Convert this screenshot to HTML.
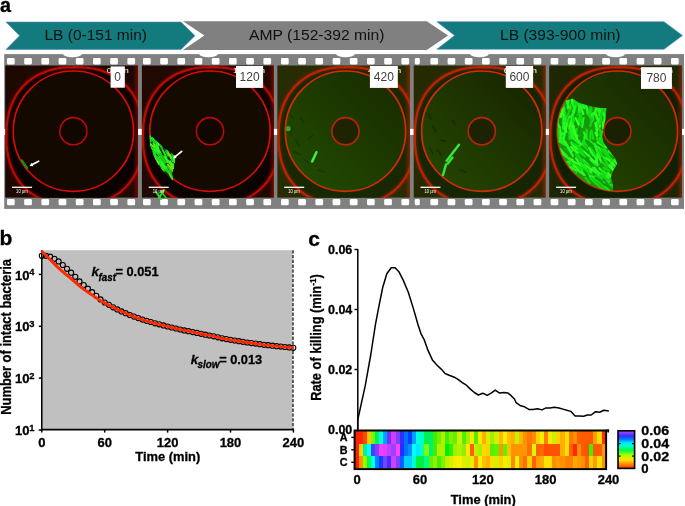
<!DOCTYPE html>
<html><head><meta charset="utf-8"><style>
html,body{margin:0;padding:0;background:#fff;width:685px;height:506px;overflow:hidden;position:relative}
svg text{font-family:"Liberation Sans",sans-serif}
svg{will-change:transform}
</style></head><body>
<svg width="685" height="506" viewBox="0 0 685 506" style="position:absolute;left:0;top:0" font-family="Liberation Sans, sans-serif">
<defs>
<filter id="blur1" x="-20%" y="-20%" width="140%" height="140%"><feGaussianBlur stdDeviation="0.8"/></filter>
<filter id="blur2" x="-20%" y="-20%" width="140%" height="140%"><feGaussianBlur stdDeviation="2.5"/></filter>
<filter id="blur05" x="-20%" y="-20%" width="140%" height="140%"><feGaussianBlur stdDeviation="0.5"/></filter>
<linearGradient id="cbar" x1="0" y1="1" x2="0" y2="0">
<stop offset="0" stop-color="#ff3000"/>
<stop offset="0.1" stop-color="#ff8000"/>
<stop offset="0.22" stop-color="#ffe000"/>
<stop offset="0.35" stop-color="#b0ff00"/>
<stop offset="0.48" stop-color="#00ff40"/>
<stop offset="0.6" stop-color="#00ffd0"/>
<stop offset="0.68" stop-color="#00e8ff"/>
<stop offset="0.77" stop-color="#0080ff"/>
<stop offset="0.86" stop-color="#2a30ff"/>
<stop offset="0.95" stop-color="#9040ff"/>
<stop offset="1" stop-color="#c040ff"/>
</linearGradient>
</defs>
<text x="0.0" y="11.7" font-size="21" font-weight="bold" font-style="normal" text-anchor="start" fill="#000" textLength="11.0" lengthAdjust="spacingAndGlyphs" stroke="#000" stroke-width="0.3" >a</text>
<polygon points="6,22 181,22 195,35.7 181,49.5 6,49.5 19.6,35.7" fill="#137b7d" stroke="#5a86c6" stroke-width="0.6"/>
<polygon points="183,21.2 426.8,21.2 448.1,35.6 426.8,50.1 183,50.1 204.4,35.6" fill="#808080"/>
<polygon points="436.8,21.7 664,21.7 682.5,35.5 664,49.3 436.8,49.3 454.6,35.5" fill="#137b7d" stroke="#5a86c6" stroke-width="0.6"/>
<text x="44.5" y="39.6" font-size="14.5" font-weight="normal" font-style="normal" text-anchor="start" fill="#111" textLength="102.5" lengthAdjust="spacingAndGlyphs" >LB (0-151 min)</text>
<text x="249" y="39.8" font-size="14.5" font-weight="normal" font-style="normal" text-anchor="start" fill="#111" textLength="135.5" lengthAdjust="spacingAndGlyphs" >AMP (152-392 min)</text>
<text x="500" y="39.8" font-size="14.5" font-weight="normal" font-style="normal" text-anchor="start" fill="#111" textLength="120.5" lengthAdjust="spacingAndGlyphs" >LB (393-900 min)</text>
<rect x="4.2" y="54.1" width="679.8" height="154.8" fill="#808080"/>
<ellipse cx="72.4" cy="54.1" rx="9.3" ry="3.2" fill="#fff"/>
<ellipse cx="208.5" cy="54.1" rx="9.3" ry="3.2" fill="#fff"/>
<ellipse cx="345.5" cy="54.1" rx="9.3" ry="3.2" fill="#fff"/>
<ellipse cx="479.5" cy="54.1" rx="9.3" ry="3.2" fill="#fff"/>
<ellipse cx="615.6" cy="54.1" rx="9.3" ry="3.2" fill="#fff"/>
<rect x="7.0" y="58.1" width="7.7" height="6.3" rx="1.3" fill="#fff"/>
<rect x="7.0" y="199.0" width="7.7" height="6.3" rx="1.3" fill="#fff"/>
<rect x="24.2" y="58.1" width="7.7" height="6.3" rx="1.3" fill="#fff"/>
<rect x="24.2" y="199.0" width="7.7" height="6.3" rx="1.3" fill="#fff"/>
<rect x="41.4" y="58.1" width="7.7" height="6.3" rx="1.3" fill="#fff"/>
<rect x="41.4" y="199.0" width="7.7" height="6.3" rx="1.3" fill="#fff"/>
<rect x="58.6" y="58.1" width="7.7" height="6.3" rx="1.3" fill="#fff"/>
<rect x="58.6" y="199.0" width="7.7" height="6.3" rx="1.3" fill="#fff"/>
<rect x="75.8" y="58.1" width="7.7" height="6.3" rx="1.3" fill="#fff"/>
<rect x="75.8" y="199.0" width="7.7" height="6.3" rx="1.3" fill="#fff"/>
<rect x="93.0" y="58.1" width="7.7" height="6.3" rx="1.3" fill="#fff"/>
<rect x="93.0" y="199.0" width="7.7" height="6.3" rx="1.3" fill="#fff"/>
<rect x="110.2" y="58.1" width="7.7" height="6.3" rx="1.3" fill="#fff"/>
<rect x="110.2" y="199.0" width="7.7" height="6.3" rx="1.3" fill="#fff"/>
<rect x="127.4" y="58.1" width="7.7" height="6.3" rx="1.3" fill="#fff"/>
<rect x="127.4" y="199.0" width="7.7" height="6.3" rx="1.3" fill="#fff"/>
<rect x="143.0" y="58.1" width="7.7" height="6.3" rx="1.3" fill="#fff"/>
<rect x="143.0" y="199.0" width="7.7" height="6.3" rx="1.3" fill="#fff"/>
<rect x="160.2" y="58.1" width="7.7" height="6.3" rx="1.3" fill="#fff"/>
<rect x="160.2" y="199.0" width="7.7" height="6.3" rx="1.3" fill="#fff"/>
<rect x="177.4" y="58.1" width="7.7" height="6.3" rx="1.3" fill="#fff"/>
<rect x="177.4" y="199.0" width="7.7" height="6.3" rx="1.3" fill="#fff"/>
<rect x="194.6" y="58.1" width="7.7" height="6.3" rx="1.3" fill="#fff"/>
<rect x="194.6" y="199.0" width="7.7" height="6.3" rx="1.3" fill="#fff"/>
<rect x="211.8" y="58.1" width="7.7" height="6.3" rx="1.3" fill="#fff"/>
<rect x="211.8" y="199.0" width="7.7" height="6.3" rx="1.3" fill="#fff"/>
<rect x="229.0" y="58.1" width="7.7" height="6.3" rx="1.3" fill="#fff"/>
<rect x="229.0" y="199.0" width="7.7" height="6.3" rx="1.3" fill="#fff"/>
<rect x="246.2" y="58.1" width="7.7" height="6.3" rx="1.3" fill="#fff"/>
<rect x="246.2" y="199.0" width="7.7" height="6.3" rx="1.3" fill="#fff"/>
<rect x="263.4" y="58.1" width="7.7" height="6.3" rx="1.3" fill="#fff"/>
<rect x="263.4" y="199.0" width="7.7" height="6.3" rx="1.3" fill="#fff"/>
<rect x="281.0" y="58.1" width="7.7" height="6.3" rx="1.3" fill="#fff"/>
<rect x="281.0" y="199.0" width="7.7" height="6.3" rx="1.3" fill="#fff"/>
<rect x="298.2" y="58.1" width="7.7" height="6.3" rx="1.3" fill="#fff"/>
<rect x="298.2" y="199.0" width="7.7" height="6.3" rx="1.3" fill="#fff"/>
<rect x="315.4" y="58.1" width="7.7" height="6.3" rx="1.3" fill="#fff"/>
<rect x="315.4" y="199.0" width="7.7" height="6.3" rx="1.3" fill="#fff"/>
<rect x="332.6" y="58.1" width="7.7" height="6.3" rx="1.3" fill="#fff"/>
<rect x="332.6" y="199.0" width="7.7" height="6.3" rx="1.3" fill="#fff"/>
<rect x="349.8" y="58.1" width="7.7" height="6.3" rx="1.3" fill="#fff"/>
<rect x="349.8" y="199.0" width="7.7" height="6.3" rx="1.3" fill="#fff"/>
<rect x="367.0" y="58.1" width="7.7" height="6.3" rx="1.3" fill="#fff"/>
<rect x="367.0" y="199.0" width="7.7" height="6.3" rx="1.3" fill="#fff"/>
<rect x="384.2" y="58.1" width="7.7" height="6.3" rx="1.3" fill="#fff"/>
<rect x="384.2" y="199.0" width="7.7" height="6.3" rx="1.3" fill="#fff"/>
<rect x="401.4" y="58.1" width="7.7" height="6.3" rx="1.3" fill="#fff"/>
<rect x="401.4" y="199.0" width="7.7" height="6.3" rx="1.3" fill="#fff"/>
<rect x="414.8" y="58.1" width="5.0" height="6.3" rx="1.3" fill="#fff"/>
<rect x="414.8" y="199.0" width="5.0" height="6.3" rx="1.3" fill="#fff"/>
<rect x="430.4" y="58.1" width="7.7" height="6.3" rx="1.3" fill="#fff"/>
<rect x="430.4" y="199.0" width="7.7" height="6.3" rx="1.3" fill="#fff"/>
<rect x="447.6" y="58.1" width="7.7" height="6.3" rx="1.3" fill="#fff"/>
<rect x="447.6" y="199.0" width="7.7" height="6.3" rx="1.3" fill="#fff"/>
<rect x="464.8" y="58.1" width="7.7" height="6.3" rx="1.3" fill="#fff"/>
<rect x="464.8" y="199.0" width="7.7" height="6.3" rx="1.3" fill="#fff"/>
<rect x="482.0" y="58.1" width="7.7" height="6.3" rx="1.3" fill="#fff"/>
<rect x="482.0" y="199.0" width="7.7" height="6.3" rx="1.3" fill="#fff"/>
<rect x="499.2" y="58.1" width="7.7" height="6.3" rx="1.3" fill="#fff"/>
<rect x="499.2" y="199.0" width="7.7" height="6.3" rx="1.3" fill="#fff"/>
<rect x="516.4" y="58.1" width="7.7" height="6.3" rx="1.3" fill="#fff"/>
<rect x="516.4" y="199.0" width="7.7" height="6.3" rx="1.3" fill="#fff"/>
<rect x="533.6" y="58.1" width="7.7" height="6.3" rx="1.3" fill="#fff"/>
<rect x="533.6" y="199.0" width="7.7" height="6.3" rx="1.3" fill="#fff"/>
<rect x="550.6" y="58.1" width="7.7" height="6.3" rx="1.3" fill="#fff"/>
<rect x="550.6" y="199.0" width="7.7" height="6.3" rx="1.3" fill="#fff"/>
<rect x="567.8" y="58.1" width="7.7" height="6.3" rx="1.3" fill="#fff"/>
<rect x="567.8" y="199.0" width="7.7" height="6.3" rx="1.3" fill="#fff"/>
<rect x="585.0" y="58.1" width="7.7" height="6.3" rx="1.3" fill="#fff"/>
<rect x="585.0" y="199.0" width="7.7" height="6.3" rx="1.3" fill="#fff"/>
<rect x="602.2" y="58.1" width="7.7" height="6.3" rx="1.3" fill="#fff"/>
<rect x="602.2" y="199.0" width="7.7" height="6.3" rx="1.3" fill="#fff"/>
<rect x="619.4" y="58.1" width="7.7" height="6.3" rx="1.3" fill="#fff"/>
<rect x="619.4" y="199.0" width="7.7" height="6.3" rx="1.3" fill="#fff"/>
<rect x="636.6" y="58.1" width="7.7" height="6.3" rx="1.3" fill="#fff"/>
<rect x="636.6" y="199.0" width="7.7" height="6.3" rx="1.3" fill="#fff"/>
<rect x="653.8" y="58.1" width="7.7" height="6.3" rx="1.3" fill="#fff"/>
<rect x="653.8" y="199.0" width="7.7" height="6.3" rx="1.3" fill="#fff"/>
<rect x="671.0" y="58.1" width="7.7" height="6.3" rx="1.3" fill="#fff"/>
<rect x="671.0" y="199.0" width="7.7" height="6.3" rx="1.3" fill="#fff"/>
<clipPath id="fc0"><rect x="5.1" y="65.3" width="132.9" height="132.5"/></clipPath>
<g clip-path="url(#fc0)">
<rect x="5.1" y="65.3" width="132.9" height="132.5" fill="#1e0902"/>
<path d="M143.4,136.2 L143.3,141.5 L143.1,145.9 L142.7,149.9 L142.1,153.8 L141.4,157.5 L140.5,161.1 L139.4,164.5 L138.2,167.8 L136.9,170.9 L135.3,174.0 L133.7,176.9 L131.9,179.7 L129.9,182.3 L127.8,184.9 L125.6,187.2 L123.2,189.5 L120.7,191.6 L118.1,193.6 L115.3,195.4 L112.4,197.1 L109.4,198.6 L106.2,200.0 L103.0,201.2 L99.6,202.3 L96.0,203.2 L92.4,203.9 L88.5,204.5 L84.5,204.9 L80.2,205.1 L74.9,205.2 L69.6,205.1 L65.3,204.9 L61.3,204.5 L57.4,203.9 L53.8,203.2 L50.2,202.3 L46.8,201.2 L43.6,200.0 L40.4,198.6 L37.4,197.1 L34.5,195.4 L31.7,193.6 L29.1,191.6 L26.6,189.5 L24.2,187.2 L22.0,184.9 L19.9,182.3 L17.9,179.7 L16.1,176.9 L14.5,174.0 L12.9,170.9 L11.6,167.8 L10.4,164.5 L9.3,161.1 L8.4,157.5 L7.7,153.8 L7.1,149.9 L6.7,145.9 L6.5,141.5 L6.4,136.2 L6.5,130.9 L6.7,126.5 L7.1,122.5 L7.7,118.6 L8.4,114.9 L9.3,111.3 L10.4,107.9 L11.6,104.6 L12.9,101.5 L14.5,98.4 L16.1,95.5 L17.9,92.7 L19.9,90.1 L22.0,87.5 L24.2,85.2 L26.6,82.9 L29.1,80.8 L31.7,78.8 L34.5,77.0 L37.4,75.3 L40.4,73.8 L43.6,72.4 L46.8,71.2 L50.2,70.1 L53.8,69.2 L57.4,68.5 L61.3,67.9 L65.3,67.5 L69.6,67.3 L74.9,67.2 L80.2,67.3 L84.5,67.5 L88.5,67.9 L92.4,68.5 L96.0,69.2 L99.6,70.1 L103.0,71.2 L106.2,72.4 L109.4,73.8 L112.4,75.3 L115.3,77.0 L118.1,78.8 L120.7,80.8 L123.2,82.9 L125.6,85.2 L127.8,87.5 L129.9,90.1 L131.9,92.7 L133.7,95.5 L135.3,98.4 L136.9,101.5 L138.2,104.6 L139.4,107.9 L140.5,111.3 L141.4,114.9 L142.1,118.6 L142.7,122.5 L143.1,126.5 L143.3,130.9Z" fill="#0a0200"/>
<circle cx="73.39999999999999" cy="131.2" r="60.2" fill="#130900"/>
<circle cx="73.39999999999999" cy="131.2" r="13.5" fill="#120600"/>
<rect x="133.0" y="65.3" width="5" height="132.5" fill="url(#rglow0)"/>
<path d="M143.4,136.2 L143.3,141.5 L143.1,145.9 L142.7,149.9 L142.1,153.8 L141.4,157.5 L140.5,161.1 L139.4,164.5 L138.2,167.8 L136.9,170.9 L135.3,174.0 L133.7,176.9 L131.9,179.7 L129.9,182.3 L127.8,184.9 L125.6,187.2 L123.2,189.5 L120.7,191.6 L118.1,193.6 L115.3,195.4 L112.4,197.1 L109.4,198.6 L106.2,200.0 L103.0,201.2 L99.6,202.3 L96.0,203.2 L92.4,203.9 L88.5,204.5 L84.5,204.9 L80.2,205.1 L74.9,205.2 L69.6,205.1 L65.3,204.9 L61.3,204.5 L57.4,203.9 L53.8,203.2 L50.2,202.3 L46.8,201.2 L43.6,200.0 L40.4,198.6 L37.4,197.1 L34.5,195.4 L31.7,193.6 L29.1,191.6 L26.6,189.5 L24.2,187.2 L22.0,184.9 L19.9,182.3 L17.9,179.7 L16.1,176.9 L14.5,174.0 L12.9,170.9 L11.6,167.8 L10.4,164.5 L9.3,161.1 L8.4,157.5 L7.7,153.8 L7.1,149.9 L6.7,145.9 L6.5,141.5 L6.4,136.2 L6.5,130.9 L6.7,126.5 L7.1,122.5 L7.7,118.6 L8.4,114.9 L9.3,111.3 L10.4,107.9 L11.6,104.6 L12.9,101.5 L14.5,98.4 L16.1,95.5 L17.9,92.7 L19.9,90.1 L22.0,87.5 L24.2,85.2 L26.6,82.9 L29.1,80.8 L31.7,78.8 L34.5,77.0 L37.4,75.3 L40.4,73.8 L43.6,72.4 L46.8,71.2 L50.2,70.1 L53.8,69.2 L57.4,68.5 L61.3,67.9 L65.3,67.5 L69.6,67.3 L74.9,67.2 L80.2,67.3 L84.5,67.5 L88.5,67.9 L92.4,68.5 L96.0,69.2 L99.6,70.1 L103.0,71.2 L106.2,72.4 L109.4,73.8 L112.4,75.3 L115.3,77.0 L118.1,78.8 L120.7,80.8 L123.2,82.9 L125.6,85.2 L127.8,87.5 L129.9,90.1 L131.9,92.7 L133.7,95.5 L135.3,98.4 L136.9,101.5 L138.2,104.6 L139.4,107.9 L140.5,111.3 L141.4,114.9 L142.1,118.6 L142.7,122.5 L143.1,126.5 L143.3,130.9Z" fill="none" stroke="#b80800" stroke-width="4.5" opacity="0.35" filter="url(#blur1)"/>
<g filter="url(#blur05)">
<path d="M143.4,136.2 L143.3,141.5 L143.1,145.9 L142.7,149.9 L142.1,153.8 L141.4,157.5 L140.5,161.1 L139.4,164.5 L138.2,167.8 L136.9,170.9 L135.3,174.0 L133.7,176.9 L131.9,179.7 L129.9,182.3 L127.8,184.9 L125.6,187.2 L123.2,189.5 L120.7,191.6 L118.1,193.6 L115.3,195.4 L112.4,197.1 L109.4,198.6 L106.2,200.0 L103.0,201.2 L99.6,202.3 L96.0,203.2 L92.4,203.9 L88.5,204.5 L84.5,204.9 L80.2,205.1 L74.9,205.2 L69.6,205.1 L65.3,204.9 L61.3,204.5 L57.4,203.9 L53.8,203.2 L50.2,202.3 L46.8,201.2 L43.6,200.0 L40.4,198.6 L37.4,197.1 L34.5,195.4 L31.7,193.6 L29.1,191.6 L26.6,189.5 L24.2,187.2 L22.0,184.9 L19.9,182.3 L17.9,179.7 L16.1,176.9 L14.5,174.0 L12.9,170.9 L11.6,167.8 L10.4,164.5 L9.3,161.1 L8.4,157.5 L7.7,153.8 L7.1,149.9 L6.7,145.9 L6.5,141.5 L6.4,136.2 L6.5,130.9 L6.7,126.5 L7.1,122.5 L7.7,118.6 L8.4,114.9 L9.3,111.3 L10.4,107.9 L11.6,104.6 L12.9,101.5 L14.5,98.4 L16.1,95.5 L17.9,92.7 L19.9,90.1 L22.0,87.5 L24.2,85.2 L26.6,82.9 L29.1,80.8 L31.7,78.8 L34.5,77.0 L37.4,75.3 L40.4,73.8 L43.6,72.4 L46.8,71.2 L50.2,70.1 L53.8,69.2 L57.4,68.5 L61.3,67.9 L65.3,67.5 L69.6,67.3 L74.9,67.2 L80.2,67.3 L84.5,67.5 L88.5,67.9 L92.4,68.5 L96.0,69.2 L99.6,70.1 L103.0,71.2 L106.2,72.4 L109.4,73.8 L112.4,75.3 L115.3,77.0 L118.1,78.8 L120.7,80.8 L123.2,82.9 L125.6,85.2 L127.8,87.5 L129.9,90.1 L131.9,92.7 L133.7,95.5 L135.3,98.4 L136.9,101.5 L138.2,104.6 L139.4,107.9 L140.5,111.3 L141.4,114.9 L142.1,118.6 L142.7,122.5 L143.1,126.5 L143.3,130.9Z" fill="none" stroke="#b80800" stroke-width="2.2"/>
</g>
<g filter="url(#blur05)">
<circle cx="73.39999999999999" cy="131.2" r="13.6" fill="none" stroke="#b80800" stroke-width="1.6"/>
<circle cx="73.39999999999999" cy="131.2" r="60.2" fill="none" stroke="#d80a00" stroke-width="1.7"/>
</g>
</g>
<linearGradient id="rglow0" x1="0" x2="1" y1="0" y2="0"><stop offset="0" stop-color="#b80800" stop-opacity="0"/><stop offset="1" stop-color="#b80800" stop-opacity="0.55"/></linearGradient>
<clipPath id="fc1"><rect x="141.7" y="65.3" width="132.2" height="132.5"/></clipPath>
<g clip-path="url(#fc1)">
<rect x="141.7" y="65.3" width="132.2" height="132.5" fill="#200902"/>
<path d="M280.0,136.2 L279.9,141.5 L279.7,145.9 L279.3,149.9 L278.7,153.8 L278.0,157.5 L277.1,161.1 L276.0,164.5 L274.8,167.8 L273.5,170.9 L271.9,174.0 L270.3,176.9 L268.5,179.7 L266.5,182.3 L264.4,184.9 L262.2,187.2 L259.8,189.5 L257.3,191.6 L254.7,193.6 L251.9,195.4 L249.0,197.1 L246.0,198.6 L242.8,200.0 L239.6,201.2 L236.2,202.3 L232.6,203.2 L229.0,203.9 L225.1,204.5 L221.1,204.9 L216.8,205.1 L211.5,205.2 L206.2,205.1 L201.9,204.9 L197.9,204.5 L194.0,203.9 L190.4,203.2 L186.8,202.3 L183.4,201.2 L180.2,200.0 L177.0,198.6 L174.0,197.1 L171.1,195.4 L168.3,193.6 L165.7,191.6 L163.2,189.5 L160.8,187.2 L158.6,184.9 L156.5,182.3 L154.5,179.7 L152.7,176.9 L151.1,174.0 L149.5,170.9 L148.2,167.8 L147.0,164.5 L145.9,161.1 L145.0,157.5 L144.3,153.8 L143.7,149.9 L143.3,145.9 L143.1,141.5 L143.0,136.2 L143.1,130.9 L143.3,126.5 L143.7,122.5 L144.3,118.6 L145.0,114.9 L145.9,111.3 L147.0,107.9 L148.2,104.6 L149.5,101.5 L151.1,98.4 L152.7,95.5 L154.5,92.7 L156.5,90.1 L158.6,87.5 L160.8,85.2 L163.2,82.9 L165.7,80.8 L168.3,78.8 L171.1,77.0 L174.0,75.3 L177.0,73.8 L180.2,72.4 L183.4,71.2 L186.8,70.1 L190.4,69.2 L194.0,68.5 L197.9,67.9 L201.9,67.5 L206.2,67.3 L211.5,67.2 L216.8,67.3 L221.1,67.5 L225.1,67.9 L229.0,68.5 L232.6,69.2 L236.2,70.1 L239.6,71.2 L242.8,72.4 L246.0,73.8 L249.0,75.3 L251.9,77.0 L254.7,78.8 L257.3,80.8 L259.8,82.9 L262.2,85.2 L264.4,87.5 L266.5,90.1 L268.5,92.7 L270.3,95.5 L271.9,98.4 L273.5,101.5 L274.8,104.6 L276.0,107.9 L277.1,111.3 L278.0,114.9 L278.7,118.6 L279.3,122.5 L279.7,126.5 L279.9,130.9Z" fill="#0a0300"/>
<circle cx="210.0" cy="131.2" r="60.2" fill="#140a00"/>
<circle cx="210.0" cy="131.2" r="13.5" fill="#120600"/>
<rect x="268.9" y="65.3" width="5" height="132.5" fill="url(#rglow1)"/>
<path d="M280.0,136.2 L279.9,141.5 L279.7,145.9 L279.3,149.9 L278.7,153.8 L278.0,157.5 L277.1,161.1 L276.0,164.5 L274.8,167.8 L273.5,170.9 L271.9,174.0 L270.3,176.9 L268.5,179.7 L266.5,182.3 L264.4,184.9 L262.2,187.2 L259.8,189.5 L257.3,191.6 L254.7,193.6 L251.9,195.4 L249.0,197.1 L246.0,198.6 L242.8,200.0 L239.6,201.2 L236.2,202.3 L232.6,203.2 L229.0,203.9 L225.1,204.5 L221.1,204.9 L216.8,205.1 L211.5,205.2 L206.2,205.1 L201.9,204.9 L197.9,204.5 L194.0,203.9 L190.4,203.2 L186.8,202.3 L183.4,201.2 L180.2,200.0 L177.0,198.6 L174.0,197.1 L171.1,195.4 L168.3,193.6 L165.7,191.6 L163.2,189.5 L160.8,187.2 L158.6,184.9 L156.5,182.3 L154.5,179.7 L152.7,176.9 L151.1,174.0 L149.5,170.9 L148.2,167.8 L147.0,164.5 L145.9,161.1 L145.0,157.5 L144.3,153.8 L143.7,149.9 L143.3,145.9 L143.1,141.5 L143.0,136.2 L143.1,130.9 L143.3,126.5 L143.7,122.5 L144.3,118.6 L145.0,114.9 L145.9,111.3 L147.0,107.9 L148.2,104.6 L149.5,101.5 L151.1,98.4 L152.7,95.5 L154.5,92.7 L156.5,90.1 L158.6,87.5 L160.8,85.2 L163.2,82.9 L165.7,80.8 L168.3,78.8 L171.1,77.0 L174.0,75.3 L177.0,73.8 L180.2,72.4 L183.4,71.2 L186.8,70.1 L190.4,69.2 L194.0,68.5 L197.9,67.9 L201.9,67.5 L206.2,67.3 L211.5,67.2 L216.8,67.3 L221.1,67.5 L225.1,67.9 L229.0,68.5 L232.6,69.2 L236.2,70.1 L239.6,71.2 L242.8,72.4 L246.0,73.8 L249.0,75.3 L251.9,77.0 L254.7,78.8 L257.3,80.8 L259.8,82.9 L262.2,85.2 L264.4,87.5 L266.5,90.1 L268.5,92.7 L270.3,95.5 L271.9,98.4 L273.5,101.5 L274.8,104.6 L276.0,107.9 L277.1,111.3 L278.0,114.9 L278.7,118.6 L279.3,122.5 L279.7,126.5 L279.9,130.9Z" fill="none" stroke="#b80a00" stroke-width="4.5" opacity="0.35" filter="url(#blur1)"/>
<g filter="url(#blur05)">
<path d="M280.0,136.2 L279.9,141.5 L279.7,145.9 L279.3,149.9 L278.7,153.8 L278.0,157.5 L277.1,161.1 L276.0,164.5 L274.8,167.8 L273.5,170.9 L271.9,174.0 L270.3,176.9 L268.5,179.7 L266.5,182.3 L264.4,184.9 L262.2,187.2 L259.8,189.5 L257.3,191.6 L254.7,193.6 L251.9,195.4 L249.0,197.1 L246.0,198.6 L242.8,200.0 L239.6,201.2 L236.2,202.3 L232.6,203.2 L229.0,203.9 L225.1,204.5 L221.1,204.9 L216.8,205.1 L211.5,205.2 L206.2,205.1 L201.9,204.9 L197.9,204.5 L194.0,203.9 L190.4,203.2 L186.8,202.3 L183.4,201.2 L180.2,200.0 L177.0,198.6 L174.0,197.1 L171.1,195.4 L168.3,193.6 L165.7,191.6 L163.2,189.5 L160.8,187.2 L158.6,184.9 L156.5,182.3 L154.5,179.7 L152.7,176.9 L151.1,174.0 L149.5,170.9 L148.2,167.8 L147.0,164.5 L145.9,161.1 L145.0,157.5 L144.3,153.8 L143.7,149.9 L143.3,145.9 L143.1,141.5 L143.0,136.2 L143.1,130.9 L143.3,126.5 L143.7,122.5 L144.3,118.6 L145.0,114.9 L145.9,111.3 L147.0,107.9 L148.2,104.6 L149.5,101.5 L151.1,98.4 L152.7,95.5 L154.5,92.7 L156.5,90.1 L158.6,87.5 L160.8,85.2 L163.2,82.9 L165.7,80.8 L168.3,78.8 L171.1,77.0 L174.0,75.3 L177.0,73.8 L180.2,72.4 L183.4,71.2 L186.8,70.1 L190.4,69.2 L194.0,68.5 L197.9,67.9 L201.9,67.5 L206.2,67.3 L211.5,67.2 L216.8,67.3 L221.1,67.5 L225.1,67.9 L229.0,68.5 L232.6,69.2 L236.2,70.1 L239.6,71.2 L242.8,72.4 L246.0,73.8 L249.0,75.3 L251.9,77.0 L254.7,78.8 L257.3,80.8 L259.8,82.9 L262.2,85.2 L264.4,87.5 L266.5,90.1 L268.5,92.7 L270.3,95.5 L271.9,98.4 L273.5,101.5 L274.8,104.6 L276.0,107.9 L277.1,111.3 L278.0,114.9 L278.7,118.6 L279.3,122.5 L279.7,126.5 L279.9,130.9Z" fill="none" stroke="#b80a00" stroke-width="2.2"/>
</g>
<g filter="url(#blur05)">
<circle cx="210.0" cy="131.2" r="13.6" fill="none" stroke="#b80a00" stroke-width="1.6"/>
<circle cx="210.0" cy="131.2" r="60.2" fill="none" stroke="#d80c00" stroke-width="1.7"/>
</g>
</g>
<linearGradient id="rglow1" x1="0" x2="1" y1="0" y2="0"><stop offset="0" stop-color="#b80a00" stop-opacity="0"/><stop offset="1" stop-color="#b80a00" stop-opacity="0.55"/></linearGradient>
<clipPath id="fc2"><rect x="277.2" y="65.3" width="132.8" height="132.5"/></clipPath>
<g clip-path="url(#fc2)">
<rect x="277.2" y="65.3" width="132.8" height="132.5" fill="#282c02"/>
<path d="M415.5,136.2 L415.4,141.5 L415.2,145.9 L414.8,149.9 L414.2,153.8 L413.5,157.5 L412.6,161.1 L411.5,164.5 L410.3,167.8 L409.0,170.9 L407.4,174.0 L405.8,176.9 L404.0,179.7 L402.0,182.3 L399.9,184.9 L397.7,187.2 L395.3,189.5 L392.8,191.6 L390.2,193.6 L387.4,195.4 L384.5,197.1 L381.5,198.6 L378.3,200.0 L375.1,201.2 L371.7,202.3 L368.1,203.2 L364.5,203.9 L360.6,204.5 L356.6,204.9 L352.3,205.1 L347.0,205.2 L341.7,205.1 L337.4,204.9 L333.4,204.5 L329.5,203.9 L325.9,203.2 L322.3,202.3 L318.9,201.2 L315.7,200.0 L312.5,198.6 L309.5,197.1 L306.6,195.4 L303.8,193.6 L301.2,191.6 L298.7,189.5 L296.3,187.2 L294.1,184.9 L292.0,182.3 L290.0,179.7 L288.2,176.9 L286.6,174.0 L285.0,170.9 L283.7,167.8 L282.5,164.5 L281.4,161.1 L280.5,157.5 L279.8,153.8 L279.2,149.9 L278.8,145.9 L278.6,141.5 L278.5,136.2 L278.6,130.9 L278.8,126.5 L279.2,122.5 L279.8,118.6 L280.5,114.9 L281.4,111.3 L282.5,107.9 L283.7,104.6 L285.0,101.5 L286.6,98.4 L288.2,95.5 L290.0,92.7 L292.0,90.1 L294.1,87.5 L296.3,85.2 L298.7,82.9 L301.2,80.8 L303.8,78.8 L306.6,77.0 L309.5,75.3 L312.5,73.8 L315.7,72.4 L318.9,71.2 L322.3,70.1 L325.9,69.2 L329.5,68.5 L333.4,67.9 L337.4,67.5 L341.7,67.3 L347.0,67.2 L352.3,67.3 L356.6,67.5 L360.6,67.9 L364.5,68.5 L368.1,69.2 L371.7,70.1 L375.1,71.2 L378.3,72.4 L381.5,73.8 L384.5,75.3 L387.4,77.0 L390.2,78.8 L392.8,80.8 L395.3,82.9 L397.7,85.2 L399.9,87.5 L402.0,90.1 L404.0,92.7 L405.8,95.5 L407.4,98.4 L409.0,101.5 L410.3,104.6 L411.5,107.9 L412.6,111.3 L413.5,114.9 L414.2,118.6 L414.8,122.5 L415.2,126.5 L415.4,130.9Z" fill="#182802"/>
<linearGradient id="ig2" x1="0.15" y1="0.85" x2="0.85" y2="0.15"><stop offset="0" stop-color="#204800"/><stop offset="1" stop-color="#1a2e00"/></linearGradient>
<circle cx="345.5" cy="131.2" r="60.2" fill="url(#ig2)"/>
<circle cx="345.5" cy="131.2" r="13.5" fill="#1e2402"/>
<rect x="405.0" y="65.3" width="5" height="132.5" fill="url(#rglow2)"/>
<path d="M415.5,136.2 L415.4,141.5 L415.2,145.9 L414.8,149.9 L414.2,153.8 L413.5,157.5 L412.6,161.1 L411.5,164.5 L410.3,167.8 L409.0,170.9 L407.4,174.0 L405.8,176.9 L404.0,179.7 L402.0,182.3 L399.9,184.9 L397.7,187.2 L395.3,189.5 L392.8,191.6 L390.2,193.6 L387.4,195.4 L384.5,197.1 L381.5,198.6 L378.3,200.0 L375.1,201.2 L371.7,202.3 L368.1,203.2 L364.5,203.9 L360.6,204.5 L356.6,204.9 L352.3,205.1 L347.0,205.2 L341.7,205.1 L337.4,204.9 L333.4,204.5 L329.5,203.9 L325.9,203.2 L322.3,202.3 L318.9,201.2 L315.7,200.0 L312.5,198.6 L309.5,197.1 L306.6,195.4 L303.8,193.6 L301.2,191.6 L298.7,189.5 L296.3,187.2 L294.1,184.9 L292.0,182.3 L290.0,179.7 L288.2,176.9 L286.6,174.0 L285.0,170.9 L283.7,167.8 L282.5,164.5 L281.4,161.1 L280.5,157.5 L279.8,153.8 L279.2,149.9 L278.8,145.9 L278.6,141.5 L278.5,136.2 L278.6,130.9 L278.8,126.5 L279.2,122.5 L279.8,118.6 L280.5,114.9 L281.4,111.3 L282.5,107.9 L283.7,104.6 L285.0,101.5 L286.6,98.4 L288.2,95.5 L290.0,92.7 L292.0,90.1 L294.1,87.5 L296.3,85.2 L298.7,82.9 L301.2,80.8 L303.8,78.8 L306.6,77.0 L309.5,75.3 L312.5,73.8 L315.7,72.4 L318.9,71.2 L322.3,70.1 L325.9,69.2 L329.5,68.5 L333.4,67.9 L337.4,67.5 L341.7,67.3 L347.0,67.2 L352.3,67.3 L356.6,67.5 L360.6,67.9 L364.5,68.5 L368.1,69.2 L371.7,70.1 L375.1,71.2 L378.3,72.4 L381.5,73.8 L384.5,75.3 L387.4,77.0 L390.2,78.8 L392.8,80.8 L395.3,82.9 L397.7,85.2 L399.9,87.5 L402.0,90.1 L404.0,92.7 L405.8,95.5 L407.4,98.4 L409.0,101.5 L410.3,104.6 L411.5,107.9 L412.6,111.3 L413.5,114.9 L414.2,118.6 L414.8,122.5 L415.2,126.5 L415.4,130.9Z" fill="none" stroke="#c02400" stroke-width="4.5" opacity="0.35" filter="url(#blur1)"/>
<g filter="url(#blur05)">
<path d="M415.5,136.2 L415.4,141.5 L415.2,145.9 L414.8,149.9 L414.2,153.8 L413.5,157.5 L412.6,161.1 L411.5,164.5 L410.3,167.8 L409.0,170.9 L407.4,174.0 L405.8,176.9 L404.0,179.7 L402.0,182.3 L399.9,184.9 L397.7,187.2 L395.3,189.5 L392.8,191.6 L390.2,193.6 L387.4,195.4 L384.5,197.1 L381.5,198.6 L378.3,200.0 L375.1,201.2 L371.7,202.3 L368.1,203.2 L364.5,203.9 L360.6,204.5 L356.6,204.9 L352.3,205.1 L347.0,205.2 L341.7,205.1 L337.4,204.9 L333.4,204.5 L329.5,203.9 L325.9,203.2 L322.3,202.3 L318.9,201.2 L315.7,200.0 L312.5,198.6 L309.5,197.1 L306.6,195.4 L303.8,193.6 L301.2,191.6 L298.7,189.5 L296.3,187.2 L294.1,184.9 L292.0,182.3 L290.0,179.7 L288.2,176.9 L286.6,174.0 L285.0,170.9 L283.7,167.8 L282.5,164.5 L281.4,161.1 L280.5,157.5 L279.8,153.8 L279.2,149.9 L278.8,145.9 L278.6,141.5 L278.5,136.2 L278.6,130.9 L278.8,126.5 L279.2,122.5 L279.8,118.6 L280.5,114.9 L281.4,111.3 L282.5,107.9 L283.7,104.6 L285.0,101.5 L286.6,98.4 L288.2,95.5 L290.0,92.7 L292.0,90.1 L294.1,87.5 L296.3,85.2 L298.7,82.9 L301.2,80.8 L303.8,78.8 L306.6,77.0 L309.5,75.3 L312.5,73.8 L315.7,72.4 L318.9,71.2 L322.3,70.1 L325.9,69.2 L329.5,68.5 L333.4,67.9 L337.4,67.5 L341.7,67.3 L347.0,67.2 L352.3,67.3 L356.6,67.5 L360.6,67.9 L364.5,68.5 L368.1,69.2 L371.7,70.1 L375.1,71.2 L378.3,72.4 L381.5,73.8 L384.5,75.3 L387.4,77.0 L390.2,78.8 L392.8,80.8 L395.3,82.9 L397.7,85.2 L399.9,87.5 L402.0,90.1 L404.0,92.7 L405.8,95.5 L407.4,98.4 L409.0,101.5 L410.3,104.6 L411.5,107.9 L412.6,111.3 L413.5,114.9 L414.2,118.6 L414.8,122.5 L415.2,126.5 L415.4,130.9Z" fill="none" stroke="#c02400" stroke-width="2.2"/>
</g>
<g filter="url(#blur05)">
<circle cx="345.5" cy="131.2" r="13.6" fill="none" stroke="#c02400" stroke-width="1.6"/>
<circle cx="345.5" cy="131.2" r="60.2" fill="none" stroke="#d82c00" stroke-width="1.7"/>
</g>
</g>
<linearGradient id="rglow2" x1="0" x2="1" y1="0" y2="0"><stop offset="0" stop-color="#c02400" stop-opacity="0"/><stop offset="1" stop-color="#c02400" stop-opacity="0.55"/></linearGradient>
<clipPath id="fc3"><rect x="413.5" y="65.3" width="132.3" height="132.5"/></clipPath>
<g clip-path="url(#fc3)">
<rect x="413.5" y="65.3" width="132.3" height="132.5" fill="#262a02"/>
<path d="M551.8,136.2 L551.7,141.5 L551.5,145.9 L551.1,149.9 L550.5,153.8 L549.8,157.5 L548.9,161.1 L547.8,164.5 L546.6,167.8 L545.3,170.9 L543.7,174.0 L542.1,176.9 L540.3,179.7 L538.3,182.3 L536.2,184.9 L534.0,187.2 L531.6,189.5 L529.1,191.6 L526.5,193.6 L523.7,195.4 L520.8,197.1 L517.8,198.6 L514.6,200.0 L511.4,201.2 L508.0,202.3 L504.4,203.2 L500.8,203.9 L496.9,204.5 L492.9,204.9 L488.6,205.1 L483.3,205.2 L478.0,205.1 L473.7,204.9 L469.7,204.5 L465.8,203.9 L462.2,203.2 L458.6,202.3 L455.2,201.2 L452.0,200.0 L448.8,198.6 L445.8,197.1 L442.9,195.4 L440.1,193.6 L437.5,191.6 L435.0,189.5 L432.6,187.2 L430.4,184.9 L428.3,182.3 L426.3,179.7 L424.5,176.9 L422.9,174.0 L421.3,170.9 L420.0,167.8 L418.8,164.5 L417.7,161.1 L416.8,157.5 L416.1,153.8 L415.5,149.9 L415.1,145.9 L414.9,141.5 L414.8,136.2 L414.9,130.9 L415.1,126.5 L415.5,122.5 L416.1,118.6 L416.8,114.9 L417.7,111.3 L418.8,107.9 L420.0,104.6 L421.3,101.5 L422.9,98.4 L424.5,95.5 L426.3,92.7 L428.3,90.1 L430.4,87.5 L432.6,85.2 L435.0,82.9 L437.5,80.8 L440.1,78.8 L442.9,77.0 L445.8,75.3 L448.8,73.8 L452.0,72.4 L455.2,71.2 L458.6,70.1 L462.2,69.2 L465.8,68.5 L469.7,67.9 L473.7,67.5 L478.0,67.3 L483.3,67.2 L488.6,67.3 L492.9,67.5 L496.9,67.9 L500.8,68.5 L504.4,69.2 L508.0,70.1 L511.4,71.2 L514.6,72.4 L517.8,73.8 L520.8,75.3 L523.7,77.0 L526.5,78.8 L529.1,80.8 L531.6,82.9 L534.0,85.2 L536.2,87.5 L538.3,90.1 L540.3,92.7 L542.1,95.5 L543.7,98.4 L545.3,101.5 L546.6,104.6 L547.8,107.9 L548.9,111.3 L549.8,114.9 L550.5,118.6 L551.1,122.5 L551.5,126.5 L551.7,130.9Z" fill="#162602"/>
<linearGradient id="ig3" x1="0.15" y1="0.85" x2="0.85" y2="0.15"><stop offset="0" stop-color="#234300"/><stop offset="1" stop-color="#192800"/></linearGradient>
<circle cx="481.8" cy="131.2" r="60.2" fill="url(#ig3)"/>
<circle cx="481.8" cy="131.2" r="13.5" fill="#1c2202"/>
<rect x="540.8" y="65.3" width="5" height="132.5" fill="url(#rglow3)"/>
<path d="M551.8,136.2 L551.7,141.5 L551.5,145.9 L551.1,149.9 L550.5,153.8 L549.8,157.5 L548.9,161.1 L547.8,164.5 L546.6,167.8 L545.3,170.9 L543.7,174.0 L542.1,176.9 L540.3,179.7 L538.3,182.3 L536.2,184.9 L534.0,187.2 L531.6,189.5 L529.1,191.6 L526.5,193.6 L523.7,195.4 L520.8,197.1 L517.8,198.6 L514.6,200.0 L511.4,201.2 L508.0,202.3 L504.4,203.2 L500.8,203.9 L496.9,204.5 L492.9,204.9 L488.6,205.1 L483.3,205.2 L478.0,205.1 L473.7,204.9 L469.7,204.5 L465.8,203.9 L462.2,203.2 L458.6,202.3 L455.2,201.2 L452.0,200.0 L448.8,198.6 L445.8,197.1 L442.9,195.4 L440.1,193.6 L437.5,191.6 L435.0,189.5 L432.6,187.2 L430.4,184.9 L428.3,182.3 L426.3,179.7 L424.5,176.9 L422.9,174.0 L421.3,170.9 L420.0,167.8 L418.8,164.5 L417.7,161.1 L416.8,157.5 L416.1,153.8 L415.5,149.9 L415.1,145.9 L414.9,141.5 L414.8,136.2 L414.9,130.9 L415.1,126.5 L415.5,122.5 L416.1,118.6 L416.8,114.9 L417.7,111.3 L418.8,107.9 L420.0,104.6 L421.3,101.5 L422.9,98.4 L424.5,95.5 L426.3,92.7 L428.3,90.1 L430.4,87.5 L432.6,85.2 L435.0,82.9 L437.5,80.8 L440.1,78.8 L442.9,77.0 L445.8,75.3 L448.8,73.8 L452.0,72.4 L455.2,71.2 L458.6,70.1 L462.2,69.2 L465.8,68.5 L469.7,67.9 L473.7,67.5 L478.0,67.3 L483.3,67.2 L488.6,67.3 L492.9,67.5 L496.9,67.9 L500.8,68.5 L504.4,69.2 L508.0,70.1 L511.4,71.2 L514.6,72.4 L517.8,73.8 L520.8,75.3 L523.7,77.0 L526.5,78.8 L529.1,80.8 L531.6,82.9 L534.0,85.2 L536.2,87.5 L538.3,90.1 L540.3,92.7 L542.1,95.5 L543.7,98.4 L545.3,101.5 L546.6,104.6 L547.8,107.9 L548.9,111.3 L549.8,114.9 L550.5,118.6 L551.1,122.5 L551.5,126.5 L551.7,130.9Z" fill="none" stroke="#c02400" stroke-width="4.5" opacity="0.35" filter="url(#blur1)"/>
<g filter="url(#blur05)">
<path d="M551.8,136.2 L551.7,141.5 L551.5,145.9 L551.1,149.9 L550.5,153.8 L549.8,157.5 L548.9,161.1 L547.8,164.5 L546.6,167.8 L545.3,170.9 L543.7,174.0 L542.1,176.9 L540.3,179.7 L538.3,182.3 L536.2,184.9 L534.0,187.2 L531.6,189.5 L529.1,191.6 L526.5,193.6 L523.7,195.4 L520.8,197.1 L517.8,198.6 L514.6,200.0 L511.4,201.2 L508.0,202.3 L504.4,203.2 L500.8,203.9 L496.9,204.5 L492.9,204.9 L488.6,205.1 L483.3,205.2 L478.0,205.1 L473.7,204.9 L469.7,204.5 L465.8,203.9 L462.2,203.2 L458.6,202.3 L455.2,201.2 L452.0,200.0 L448.8,198.6 L445.8,197.1 L442.9,195.4 L440.1,193.6 L437.5,191.6 L435.0,189.5 L432.6,187.2 L430.4,184.9 L428.3,182.3 L426.3,179.7 L424.5,176.9 L422.9,174.0 L421.3,170.9 L420.0,167.8 L418.8,164.5 L417.7,161.1 L416.8,157.5 L416.1,153.8 L415.5,149.9 L415.1,145.9 L414.9,141.5 L414.8,136.2 L414.9,130.9 L415.1,126.5 L415.5,122.5 L416.1,118.6 L416.8,114.9 L417.7,111.3 L418.8,107.9 L420.0,104.6 L421.3,101.5 L422.9,98.4 L424.5,95.5 L426.3,92.7 L428.3,90.1 L430.4,87.5 L432.6,85.2 L435.0,82.9 L437.5,80.8 L440.1,78.8 L442.9,77.0 L445.8,75.3 L448.8,73.8 L452.0,72.4 L455.2,71.2 L458.6,70.1 L462.2,69.2 L465.8,68.5 L469.7,67.9 L473.7,67.5 L478.0,67.3 L483.3,67.2 L488.6,67.3 L492.9,67.5 L496.9,67.9 L500.8,68.5 L504.4,69.2 L508.0,70.1 L511.4,71.2 L514.6,72.4 L517.8,73.8 L520.8,75.3 L523.7,77.0 L526.5,78.8 L529.1,80.8 L531.6,82.9 L534.0,85.2 L536.2,87.5 L538.3,90.1 L540.3,92.7 L542.1,95.5 L543.7,98.4 L545.3,101.5 L546.6,104.6 L547.8,107.9 L548.9,111.3 L549.8,114.9 L550.5,118.6 L551.1,122.5 L551.5,126.5 L551.7,130.9Z" fill="none" stroke="#c02400" stroke-width="2.2"/>
</g>
<g filter="url(#blur05)">
<circle cx="481.8" cy="131.2" r="13.6" fill="none" stroke="#c02400" stroke-width="1.6"/>
<circle cx="481.8" cy="131.2" r="60.2" fill="none" stroke="#d82c00" stroke-width="1.7"/>
</g>
</g>
<linearGradient id="rglow3" x1="0" x2="1" y1="0" y2="0"><stop offset="0" stop-color="#c02400" stop-opacity="0"/><stop offset="1" stop-color="#c02400" stop-opacity="0.55"/></linearGradient>
<clipPath id="fc4"><rect x="549.1" y="65.3" width="132.9" height="132.5"/></clipPath>
<g clip-path="url(#fc4)">
<rect x="549.1" y="65.3" width="132.9" height="132.5" fill="#1e2602"/>
<path d="M687.4,136.2 L687.3,141.5 L687.1,145.9 L686.7,149.9 L686.1,153.8 L685.4,157.5 L684.5,161.1 L683.4,164.5 L682.2,167.8 L680.9,170.9 L679.3,174.0 L677.7,176.9 L675.9,179.7 L673.9,182.3 L671.8,184.9 L669.6,187.2 L667.2,189.5 L664.7,191.6 L662.1,193.6 L659.3,195.4 L656.4,197.1 L653.4,198.6 L650.2,200.0 L647.0,201.2 L643.6,202.3 L640.0,203.2 L636.4,203.9 L632.5,204.5 L628.5,204.9 L624.2,205.1 L618.9,205.2 L613.6,205.1 L609.3,204.9 L605.3,204.5 L601.4,203.9 L597.8,203.2 L594.2,202.3 L590.8,201.2 L587.6,200.0 L584.4,198.6 L581.4,197.1 L578.5,195.4 L575.7,193.6 L573.1,191.6 L570.6,189.5 L568.2,187.2 L566.0,184.9 L563.9,182.3 L561.9,179.7 L560.1,176.9 L558.5,174.0 L556.9,170.9 L555.6,167.8 L554.4,164.5 L553.3,161.1 L552.4,157.5 L551.7,153.8 L551.1,149.9 L550.7,145.9 L550.5,141.5 L550.4,136.2 L550.5,130.9 L550.7,126.5 L551.1,122.5 L551.7,118.6 L552.4,114.9 L553.3,111.3 L554.4,107.9 L555.6,104.6 L556.9,101.5 L558.5,98.4 L560.1,95.5 L561.9,92.7 L563.9,90.1 L566.0,87.5 L568.2,85.2 L570.6,82.9 L573.1,80.8 L575.7,78.8 L578.5,77.0 L581.4,75.3 L584.4,73.8 L587.6,72.4 L590.8,71.2 L594.2,70.1 L597.8,69.2 L601.4,68.5 L605.3,67.9 L609.3,67.5 L613.6,67.3 L618.9,67.2 L624.2,67.3 L628.5,67.5 L632.5,67.9 L636.4,68.5 L640.0,69.2 L643.6,70.1 L647.0,71.2 L650.2,72.4 L653.4,73.8 L656.4,75.3 L659.3,77.0 L662.1,78.8 L664.7,80.8 L667.2,82.9 L669.6,85.2 L671.8,87.5 L673.9,90.1 L675.9,92.7 L677.7,95.5 L679.3,98.4 L680.9,101.5 L682.2,104.6 L683.4,107.9 L684.5,111.3 L685.4,114.9 L686.1,118.6 L686.7,122.5 L687.1,126.5 L687.3,130.9Z" fill="#122002"/>
<linearGradient id="ig4" x1="0.15" y1="0.85" x2="0.85" y2="0.15"><stop offset="0" stop-color="#234300"/><stop offset="1" stop-color="#192a00"/></linearGradient>
<circle cx="617.4" cy="131.2" r="60.2" fill="url(#ig4)"/>
<circle cx="617.4" cy="131.2" r="13.5" fill="#1a2002"/>
<rect x="677.0" y="65.3" width="5" height="132.5" fill="url(#rglow4)"/>
<path d="M687.4,136.2 L687.3,141.5 L687.1,145.9 L686.7,149.9 L686.1,153.8 L685.4,157.5 L684.5,161.1 L683.4,164.5 L682.2,167.8 L680.9,170.9 L679.3,174.0 L677.7,176.9 L675.9,179.7 L673.9,182.3 L671.8,184.9 L669.6,187.2 L667.2,189.5 L664.7,191.6 L662.1,193.6 L659.3,195.4 L656.4,197.1 L653.4,198.6 L650.2,200.0 L647.0,201.2 L643.6,202.3 L640.0,203.2 L636.4,203.9 L632.5,204.5 L628.5,204.9 L624.2,205.1 L618.9,205.2 L613.6,205.1 L609.3,204.9 L605.3,204.5 L601.4,203.9 L597.8,203.2 L594.2,202.3 L590.8,201.2 L587.6,200.0 L584.4,198.6 L581.4,197.1 L578.5,195.4 L575.7,193.6 L573.1,191.6 L570.6,189.5 L568.2,187.2 L566.0,184.9 L563.9,182.3 L561.9,179.7 L560.1,176.9 L558.5,174.0 L556.9,170.9 L555.6,167.8 L554.4,164.5 L553.3,161.1 L552.4,157.5 L551.7,153.8 L551.1,149.9 L550.7,145.9 L550.5,141.5 L550.4,136.2 L550.5,130.9 L550.7,126.5 L551.1,122.5 L551.7,118.6 L552.4,114.9 L553.3,111.3 L554.4,107.9 L555.6,104.6 L556.9,101.5 L558.5,98.4 L560.1,95.5 L561.9,92.7 L563.9,90.1 L566.0,87.5 L568.2,85.2 L570.6,82.9 L573.1,80.8 L575.7,78.8 L578.5,77.0 L581.4,75.3 L584.4,73.8 L587.6,72.4 L590.8,71.2 L594.2,70.1 L597.8,69.2 L601.4,68.5 L605.3,67.9 L609.3,67.5 L613.6,67.3 L618.9,67.2 L624.2,67.3 L628.5,67.5 L632.5,67.9 L636.4,68.5 L640.0,69.2 L643.6,70.1 L647.0,71.2 L650.2,72.4 L653.4,73.8 L656.4,75.3 L659.3,77.0 L662.1,78.8 L664.7,80.8 L667.2,82.9 L669.6,85.2 L671.8,87.5 L673.9,90.1 L675.9,92.7 L677.7,95.5 L679.3,98.4 L680.9,101.5 L682.2,104.6 L683.4,107.9 L684.5,111.3 L685.4,114.9 L686.1,118.6 L686.7,122.5 L687.1,126.5 L687.3,130.9Z" fill="none" stroke="#c02000" stroke-width="4.5" opacity="0.35" filter="url(#blur1)"/>
<g filter="url(#blur05)">
<path d="M687.4,136.2 L687.3,141.5 L687.1,145.9 L686.7,149.9 L686.1,153.8 L685.4,157.5 L684.5,161.1 L683.4,164.5 L682.2,167.8 L680.9,170.9 L679.3,174.0 L677.7,176.9 L675.9,179.7 L673.9,182.3 L671.8,184.9 L669.6,187.2 L667.2,189.5 L664.7,191.6 L662.1,193.6 L659.3,195.4 L656.4,197.1 L653.4,198.6 L650.2,200.0 L647.0,201.2 L643.6,202.3 L640.0,203.2 L636.4,203.9 L632.5,204.5 L628.5,204.9 L624.2,205.1 L618.9,205.2 L613.6,205.1 L609.3,204.9 L605.3,204.5 L601.4,203.9 L597.8,203.2 L594.2,202.3 L590.8,201.2 L587.6,200.0 L584.4,198.6 L581.4,197.1 L578.5,195.4 L575.7,193.6 L573.1,191.6 L570.6,189.5 L568.2,187.2 L566.0,184.9 L563.9,182.3 L561.9,179.7 L560.1,176.9 L558.5,174.0 L556.9,170.9 L555.6,167.8 L554.4,164.5 L553.3,161.1 L552.4,157.5 L551.7,153.8 L551.1,149.9 L550.7,145.9 L550.5,141.5 L550.4,136.2 L550.5,130.9 L550.7,126.5 L551.1,122.5 L551.7,118.6 L552.4,114.9 L553.3,111.3 L554.4,107.9 L555.6,104.6 L556.9,101.5 L558.5,98.4 L560.1,95.5 L561.9,92.7 L563.9,90.1 L566.0,87.5 L568.2,85.2 L570.6,82.9 L573.1,80.8 L575.7,78.8 L578.5,77.0 L581.4,75.3 L584.4,73.8 L587.6,72.4 L590.8,71.2 L594.2,70.1 L597.8,69.2 L601.4,68.5 L605.3,67.9 L609.3,67.5 L613.6,67.3 L618.9,67.2 L624.2,67.3 L628.5,67.5 L632.5,67.9 L636.4,68.5 L640.0,69.2 L643.6,70.1 L647.0,71.2 L650.2,72.4 L653.4,73.8 L656.4,75.3 L659.3,77.0 L662.1,78.8 L664.7,80.8 L667.2,82.9 L669.6,85.2 L671.8,87.5 L673.9,90.1 L675.9,92.7 L677.7,95.5 L679.3,98.4 L680.9,101.5 L682.2,104.6 L683.4,107.9 L684.5,111.3 L685.4,114.9 L686.1,118.6 L686.7,122.5 L687.1,126.5 L687.3,130.9Z" fill="none" stroke="#c02000" stroke-width="2.2"/>
</g>
<g filter="url(#blur05)">
<circle cx="617.4" cy="131.2" r="13.6" fill="none" stroke="#c02000" stroke-width="1.6"/>
<circle cx="617.4" cy="131.2" r="60.2" fill="none" stroke="#d82800" stroke-width="1.7"/>
</g>
</g>
<linearGradient id="rglow4" x1="0" x2="1" y1="0" y2="0"><stop offset="0" stop-color="#c02000" stop-opacity="0"/><stop offset="1" stop-color="#c02000" stop-opacity="0.55"/></linearGradient>
<g filter="url(#blur05)">
<line x1="21.8" y1="160.5" x2="27.0" y2="168.0" stroke="#1f8a14" stroke-width="2.3" stroke-linecap="round" opacity="1.0"/>
<clipPath id="f2c"><polygon points="150.2,134.6 156.8,141.3 164.3,148 171.7,153.2 175.4,156.9 174.6,165 172.4,174 173.2,180.6 168.7,176.9 164.3,172.5 158.3,165 153.9,156.2 150.2,145.8 149.4,136.9"/></clipPath>
<g clip-path="url(#f2c)"><rect x="145" y="130" width="35" height="55" fill="#0c3006"/>
<line x1="156.7" y1="159.2" x2="158.7" y2="164.0" stroke="#18e818" stroke-width="1.8" stroke-linecap="round" opacity="1.0"/>
<line x1="172.2" y1="152.5" x2="174.5" y2="157.5" stroke="#20e020" stroke-width="1.8" stroke-linecap="round" opacity="1.0"/>
<line x1="160.8" y1="155.7" x2="164.6" y2="162.2" stroke="#28f828" stroke-width="1.8" stroke-linecap="round" opacity="1.0"/>
<line x1="161.2" y1="165.9" x2="163.1" y2="170.7" stroke="#80e020" stroke-width="1.8" stroke-linecap="round" opacity="1.0"/>
<line x1="167.7" y1="170.6" x2="171.4" y2="177.2" stroke="#80e020" stroke-width="1.8" stroke-linecap="round" opacity="1.0"/>
<line x1="155.6" y1="157.1" x2="158.7" y2="164.2" stroke="#18e818" stroke-width="1.8" stroke-linecap="round" opacity="1.0"/>
<line x1="171.2" y1="176.0" x2="172.7" y2="182.5" stroke="#28f828" stroke-width="1.8" stroke-linecap="round" opacity="1.0"/>
<line x1="159.6" y1="160.6" x2="162.4" y2="166.0" stroke="#18e818" stroke-width="1.8" stroke-linecap="round" opacity="1.0"/>
<line x1="170.7" y1="176.5" x2="174.3" y2="183.6" stroke="#14c814" stroke-width="1.8" stroke-linecap="round" opacity="1.0"/>
<line x1="169.6" y1="162.4" x2="174.7" y2="168.4" stroke="#80e020" stroke-width="1.8" stroke-linecap="round" opacity="1.0"/>
<line x1="158.0" y1="142.2" x2="161.4" y2="147.2" stroke="#20e020" stroke-width="1.8" stroke-linecap="round" opacity="1.0"/>
<line x1="155.7" y1="158.2" x2="160.1" y2="163.5" stroke="#14c814" stroke-width="1.8" stroke-linecap="round" opacity="1.0"/>
<line x1="158.6" y1="162.3" x2="162.4" y2="168.3" stroke="#20e020" stroke-width="1.8" stroke-linecap="round" opacity="1.0"/>
<line x1="153.1" y1="151.6" x2="155.5" y2="157.1" stroke="#14c814" stroke-width="1.8" stroke-linecap="round" opacity="1.0"/>
<line x1="159.8" y1="161.6" x2="163.2" y2="166.5" stroke="#20e020" stroke-width="1.8" stroke-linecap="round" opacity="1.0"/>
<line x1="162.4" y1="149.3" x2="165.8" y2="156.0" stroke="#20e020" stroke-width="1.8" stroke-linecap="round" opacity="1.0"/>
<line x1="155.5" y1="149.7" x2="158.6" y2="155.1" stroke="#20e020" stroke-width="1.8" stroke-linecap="round" opacity="1.0"/>
<line x1="170.0" y1="161.9" x2="172.6" y2="167.1" stroke="#14c814" stroke-width="1.8" stroke-linecap="round" opacity="1.0"/>
<line x1="148.0" y1="141.3" x2="153.0" y2="146.7" stroke="#80e020" stroke-width="1.8" stroke-linecap="round" opacity="1.0"/>
<line x1="170.6" y1="157.7" x2="175.6" y2="162.9" stroke="#28f828" stroke-width="1.8" stroke-linecap="round" opacity="1.0"/>
<line x1="149.7" y1="134.9" x2="150.9" y2="141.4" stroke="#18e818" stroke-width="1.8" stroke-linecap="round" opacity="1.0"/>
<line x1="155.6" y1="138.3" x2="158.8" y2="145.0" stroke="#28f828" stroke-width="1.8" stroke-linecap="round" opacity="1.0"/>
<line x1="153.3" y1="142.8" x2="154.6" y2="148.0" stroke="#18e818" stroke-width="1.8" stroke-linecap="round" opacity="1.0"/>
<line x1="159.3" y1="156.8" x2="163.0" y2="163.1" stroke="#28f828" stroke-width="1.8" stroke-linecap="round" opacity="1.0"/>
<line x1="153.2" y1="155.0" x2="156.4" y2="160.6" stroke="#18e818" stroke-width="1.8" stroke-linecap="round" opacity="1.0"/>
<line x1="170.1" y1="168.1" x2="173.6" y2="171.9" stroke="#20e020" stroke-width="1.8" stroke-linecap="round" opacity="1.0"/>
<line x1="154.3" y1="144.5" x2="158.0" y2="150.4" stroke="#80e020" stroke-width="1.8" stroke-linecap="round" opacity="1.0"/>
<line x1="155.3" y1="141.9" x2="156.4" y2="148.1" stroke="#28f828" stroke-width="1.8" stroke-linecap="round" opacity="1.0"/>
<line x1="161.8" y1="164.8" x2="164.5" y2="169.3" stroke="#28f828" stroke-width="1.8" stroke-linecap="round" opacity="1.0"/>
<line x1="164.9" y1="156.2" x2="166.8" y2="160.9" stroke="#20e020" stroke-width="1.8" stroke-linecap="round" opacity="1.0"/>
<line x1="170.3" y1="155.7" x2="173.0" y2="160.3" stroke="#14c814" stroke-width="1.8" stroke-linecap="round" opacity="1.0"/>
<line x1="170.4" y1="161.2" x2="172.5" y2="168.8" stroke="#80e020" stroke-width="1.8" stroke-linecap="round" opacity="1.0"/>
<line x1="162.4" y1="156.3" x2="163.7" y2="161.6" stroke="#18e818" stroke-width="1.8" stroke-linecap="round" opacity="1.0"/>
<line x1="152.0" y1="138.0" x2="156.0" y2="143.6" stroke="#20e020" stroke-width="1.8" stroke-linecap="round" opacity="1.0"/>
<line x1="173.6" y1="156.3" x2="174.8" y2="162.3" stroke="#28f828" stroke-width="1.8" stroke-linecap="round" opacity="1.0"/>
<line x1="165.9" y1="166.0" x2="168.2" y2="172.1" stroke="#20e020" stroke-width="1.8" stroke-linecap="round" opacity="1.0"/>
<line x1="160.1" y1="152.0" x2="162.8" y2="159.4" stroke="#80e020" stroke-width="1.8" stroke-linecap="round" opacity="1.0"/>
<line x1="153.5" y1="139.0" x2="156.0" y2="144.5" stroke="#28f828" stroke-width="1.8" stroke-linecap="round" opacity="1.0"/>
<line x1="170.6" y1="155.0" x2="172.7" y2="161.7" stroke="#20e020" stroke-width="1.8" stroke-linecap="round" opacity="1.0"/>
<line x1="163.6" y1="156.9" x2="164.9" y2="164.4" stroke="#14c814" stroke-width="1.8" stroke-linecap="round" opacity="1.0"/>
<line x1="156.6" y1="145.2" x2="158.3" y2="150.4" stroke="#20e020" stroke-width="1.8" stroke-linecap="round" opacity="1.0"/>
<line x1="163.9" y1="168.0" x2="167.7" y2="172.2" stroke="#14c814" stroke-width="1.8" stroke-linecap="round" opacity="1.0"/>
<line x1="152.4" y1="139.0" x2="155.6" y2="143.6" stroke="#18e818" stroke-width="1.8" stroke-linecap="round" opacity="1.0"/>
<line x1="156.4" y1="158.1" x2="158.2" y2="162.8" stroke="#14c814" stroke-width="1.8" stroke-linecap="round" opacity="1.0"/>
<line x1="154.3" y1="148.0" x2="158.9" y2="153.2" stroke="#20e020" stroke-width="1.8" stroke-linecap="round" opacity="1.0"/>
<line x1="156.5" y1="156.4" x2="160.2" y2="160.9" stroke="#20e020" stroke-width="1.8" stroke-linecap="round" opacity="1.0"/>
<line x1="167.4" y1="166.2" x2="171.4" y2="172.0" stroke="#14c814" stroke-width="1.8" stroke-linecap="round" opacity="1.0"/>
<line x1="155.3" y1="156.6" x2="158.4" y2="162.9" stroke="#80e020" stroke-width="1.8" stroke-linecap="round" opacity="1.0"/>
<line x1="164.5" y1="157.0" x2="168.8" y2="162.5" stroke="#28f828" stroke-width="1.8" stroke-linecap="round" opacity="1.0"/>
<line x1="163.1" y1="156.2" x2="165.5" y2="162.1" stroke="#14c814" stroke-width="1.8" stroke-linecap="round" opacity="1.0"/>
<line x1="167.9" y1="164.5" x2="171.5" y2="168.7" stroke="#80e020" stroke-width="1.8" stroke-linecap="round" opacity="1.0"/>
<line x1="161.2" y1="165.8" x2="164.3" y2="170.7" stroke="#20e020" stroke-width="1.8" stroke-linecap="round" opacity="1.0"/>
<line x1="159.7" y1="142.2" x2="162.0" y2="148.4" stroke="#14c814" stroke-width="1.8" stroke-linecap="round" opacity="1.0"/>
<line x1="166.2" y1="157.1" x2="167.4" y2="162.3" stroke="#28f828" stroke-width="1.8" stroke-linecap="round" opacity="1.0"/>
<line x1="161.4" y1="161.4" x2="165.5" y2="168.3" stroke="#28f828" stroke-width="1.8" stroke-linecap="round" opacity="1.0"/>
<line x1="160.6" y1="157.6" x2="164.0" y2="162.1" stroke="#14c814" stroke-width="1.8" stroke-linecap="round" opacity="1.0"/>
<line x1="171.1" y1="175.7" x2="174.6" y2="181.4" stroke="#80e020" stroke-width="1.8" stroke-linecap="round" opacity="1.0"/>
<line x1="154.4" y1="153.2" x2="157.5" y2="159.6" stroke="#20e020" stroke-width="1.8" stroke-linecap="round" opacity="1.0"/>
<line x1="149.2" y1="143.3" x2="151.2" y2="148.4" stroke="#20e020" stroke-width="1.8" stroke-linecap="round" opacity="1.0"/>
<line x1="167.9" y1="160.3" x2="172.0" y2="164.8" stroke="#28f828" stroke-width="1.8" stroke-linecap="round" opacity="1.0"/>
<line x1="159.6" y1="154.2" x2="163.7" y2="158.6" stroke="#14c814" stroke-width="1.8" stroke-linecap="round" opacity="1.0"/>
<line x1="169.8" y1="163.1" x2="174.7" y2="169.0" stroke="#80e020" stroke-width="1.8" stroke-linecap="round" opacity="1.0"/>
<line x1="166.3" y1="148.9" x2="168.7" y2="153.5" stroke="#20e020" stroke-width="1.8" stroke-linecap="round" opacity="1.0"/>
<line x1="165.8" y1="151.2" x2="168.3" y2="155.7" stroke="#14c814" stroke-width="1.8" stroke-linecap="round" opacity="1.0"/>
<line x1="156.2" y1="147.1" x2="159.1" y2="153.2" stroke="#28f828" stroke-width="1.8" stroke-linecap="round" opacity="1.0"/>
<line x1="153.7" y1="146.9" x2="155.3" y2="153.3" stroke="#28f828" stroke-width="1.8" stroke-linecap="round" opacity="1.0"/>
<line x1="151.7" y1="138.0" x2="154.5" y2="142.7" stroke="#18e818" stroke-width="1.8" stroke-linecap="round" opacity="1.0"/>
<line x1="152.2" y1="148.7" x2="155.8" y2="153.4" stroke="#18e818" stroke-width="1.8" stroke-linecap="round" opacity="1.0"/>
<line x1="153.6" y1="141.2" x2="157.9" y2="147.3" stroke="#14c814" stroke-width="1.8" stroke-linecap="round" opacity="1.0"/>
<line x1="159.6" y1="153.0" x2="163.6" y2="158.2" stroke="#14c814" stroke-width="1.8" stroke-linecap="round" opacity="1.0"/>
<line x1="156.9" y1="144.7" x2="159.7" y2="152.0" stroke="#28f828" stroke-width="1.8" stroke-linecap="round" opacity="1.0"/>
<line x1="169.3" y1="171.0" x2="173.3" y2="177.7" stroke="#14c814" stroke-width="1.8" stroke-linecap="round" opacity="1.0"/>
<line x1="168.0" y1="153.3" x2="171.2" y2="157.8" stroke="#80e020" stroke-width="1.8" stroke-linecap="round" opacity="1.0"/>
<line x1="173.0" y1="163.6" x2="174.0" y2="168.7" stroke="#28f828" stroke-width="1.8" stroke-linecap="round" opacity="1.0"/>
<line x1="171.5" y1="150.5" x2="173.1" y2="157.5" stroke="#14c814" stroke-width="1.8" stroke-linecap="round" opacity="1.0"/>
</g>
<line x1="156.0" y1="192.0" x2="161.0" y2="199.0" stroke="#20e020" stroke-width="2.0" stroke-linecap="round" opacity="1.0"/>
<line x1="164.0" y1="190.0" x2="159.0" y2="198.0" stroke="#20e020" stroke-width="2.0" stroke-linecap="round" opacity="1.0"/>
<line x1="161.0" y1="191.0" x2="166.0" y2="198.0" stroke="#18c818" stroke-width="1.8" stroke-linecap="round" opacity="1.0"/>
<line x1="312.2" y1="161.5" x2="316.4" y2="152.2" stroke="#40f040" stroke-width="2.5" stroke-linecap="round" opacity="1.0"/>
<circle cx="288.2" cy="128.6" r="2.6" fill="#3aa02a"/>
<line x1="290.4" y1="114.0" x2="293.1" y2="118.3" stroke="#17300a" stroke-width="1.4" stroke-linecap="round" opacity="0.8"/>
<line x1="292.8" y1="126.6" x2="289.9" y2="134.9" stroke="#17300a" stroke-width="1.4" stroke-linecap="round" opacity="0.8"/>
<line x1="308.4" y1="139.0" x2="313.2" y2="134.9" stroke="#17300a" stroke-width="1.4" stroke-linecap="round" opacity="0.8"/>
<line x1="293.1" y1="151.5" x2="300.0" y2="154.3" stroke="#17300a" stroke-width="1.4" stroke-linecap="round" opacity="0.8"/>
<line x1="300.5" y1="118.0" x2="304.0" y2="122.5" stroke="#17300a" stroke-width="1.4" stroke-linecap="round" opacity="0.8"/>
<line x1="296.0" y1="140.0" x2="299.0" y2="146.0" stroke="#17300a" stroke-width="1.4" stroke-linecap="round" opacity="0.8"/>
<line x1="318.0" y1="170.0" x2="324.0" y2="172.0" stroke="#17300a" stroke-width="1.4" stroke-linecap="round" opacity="0.8"/>
<line x1="305.0" y1="160.0" x2="309.0" y2="164.0" stroke="#17300a" stroke-width="1.4" stroke-linecap="round" opacity="0.8"/>
<line x1="428.0" y1="113.0" x2="431.0" y2="119.0" stroke="#142a08" stroke-width="1.4" stroke-linecap="round" opacity="0.8"/>
<line x1="433.0" y1="126.0" x2="436.0" y2="132.0" stroke="#142a08" stroke-width="1.4" stroke-linecap="round" opacity="0.8"/>
<line x1="440.0" y1="140.0" x2="446.0" y2="141.0" stroke="#142a08" stroke-width="1.4" stroke-linecap="round" opacity="0.8"/>
<line x1="452.0" y1="120.0" x2="456.0" y2="125.0" stroke="#142a08" stroke-width="1.4" stroke-linecap="round" opacity="0.8"/>
<line x1="437.0" y1="150.0" x2="441.0" y2="155.0" stroke="#142a08" stroke-width="1.4" stroke-linecap="round" opacity="0.8"/>
<line x1="460.0" y1="170.0" x2="466.0" y2="172.0" stroke="#142a08" stroke-width="1.4" stroke-linecap="round" opacity="0.8"/>
<line x1="430.0" y1="148.0" x2="433.0" y2="154.0" stroke="#142a08" stroke-width="1.4" stroke-linecap="round" opacity="0.8"/>
<line x1="459.0" y1="144.8" x2="446.6" y2="160.8" stroke="#34e834" stroke-width="2.4" stroke-linecap="round" opacity="1.0"/>
<line x1="452.5" y1="157.6" x2="447.8" y2="163.6" stroke="#34e834" stroke-width="2.4" stroke-linecap="round" opacity="1.0"/>
<line x1="446.0" y1="164.4" x2="443.0" y2="175.0" stroke="#34e834" stroke-width="2.4" stroke-linecap="round" opacity="1.0"/>
</g>
<clipPath id="f5c"><polygon points="565,100.7 572.5,98.5 578.9,102.8 589.5,106 600.2,108.1 606.6,108.1 605.5,119.9 603.4,128.4 602.3,135.9 603.4,142.3 608.7,149.7 615.1,158.3 617.3,163.6 613,171.1 610.9,177.5 613,183.9 613,189.2 613.2,191.1 608.2,190.5 603.2,189.5 598.4,188.1 593.6,186.3 589.1,184.1 584.7,181.5 580.6,178.6 576.7,175.3 573.2,171.7 569.9,167.9 567.0,163.7 564.4,159.4 562.2,154.8 560.4,150.1 559.1,145.2 558.1,140.2 557.5,135.2 557.4,130.2 557.7,125.1 558.4,120.1 559.6,115.2 561.1,110.4 563.1,105.7 565.4,101.2"/></clipPath>
<g clip-path="url(#f5c)" filter="url(#blur05)">
<rect x="550" y="95" width="75" height="100" fill="#1c9a0c"/>
<line x1="576.4" y1="108.9" x2="575.7" y2="115.2" stroke="#28f828" stroke-width="2.2" stroke-linecap="round" opacity="1.0"/>
<line x1="560.1" y1="149.2" x2="563.6" y2="155.2" stroke="#10e010" stroke-width="2.2" stroke-linecap="round" opacity="1.0"/>
<line x1="581.4" y1="100.9" x2="584.3" y2="108.1" stroke="#28f828" stroke-width="2.2" stroke-linecap="round" opacity="1.0"/>
<line x1="564.1" y1="113.9" x2="563.2" y2="123.6" stroke="#28f828" stroke-width="2.2" stroke-linecap="round" opacity="1.0"/>
<line x1="566.3" y1="148.0" x2="573.1" y2="151.6" stroke="#28f828" stroke-width="2.2" stroke-linecap="round" opacity="1.0"/>
<line x1="564.2" y1="123.4" x2="562.4" y2="129.9" stroke="#28f828" stroke-width="2.2" stroke-linecap="round" opacity="1.0"/>
<line x1="589.8" y1="111.4" x2="593.1" y2="119.6" stroke="#28f828" stroke-width="2.2" stroke-linecap="round" opacity="1.0"/>
<line x1="560.2" y1="113.3" x2="559.2" y2="121.0" stroke="#30ff20" stroke-width="2.2" stroke-linecap="round" opacity="1.0"/>
<line x1="577.0" y1="116.8" x2="579.8" y2="125.4" stroke="#10e010" stroke-width="2.2" stroke-linecap="round" opacity="1.0"/>
<line x1="589.3" y1="143.1" x2="594.0" y2="150.6" stroke="#30ff20" stroke-width="2.2" stroke-linecap="round" opacity="1.0"/>
<line x1="587.0" y1="108.5" x2="588.5" y2="118.1" stroke="#18d018" stroke-width="2.2" stroke-linecap="round" opacity="1.0"/>
<line x1="601.5" y1="148.2" x2="605.3" y2="154.4" stroke="#0c9c08" stroke-width="2.2" stroke-linecap="round" opacity="1.0"/>
<line x1="575.9" y1="141.6" x2="579.5" y2="146.8" stroke="#10e010" stroke-width="2.2" stroke-linecap="round" opacity="1.0"/>
<line x1="597.4" y1="154.1" x2="601.6" y2="162.3" stroke="#30ff20" stroke-width="2.2" stroke-linecap="round" opacity="1.0"/>
<line x1="596.5" y1="177.6" x2="604.3" y2="183.4" stroke="#30ff20" stroke-width="2.2" stroke-linecap="round" opacity="1.0"/>
<line x1="564.6" y1="104.7" x2="568.3" y2="113.0" stroke="#20f020" stroke-width="2.2" stroke-linecap="round" opacity="1.0"/>
<line x1="603.2" y1="131.3" x2="600.4" y2="138.7" stroke="#20f020" stroke-width="2.2" stroke-linecap="round" opacity="1.0"/>
<line x1="581.4" y1="145.1" x2="586.3" y2="153.0" stroke="#28f828" stroke-width="2.2" stroke-linecap="round" opacity="1.0"/>
<line x1="572.6" y1="131.9" x2="574.0" y2="141.3" stroke="#20f020" stroke-width="2.2" stroke-linecap="round" opacity="1.0"/>
<line x1="564.5" y1="111.0" x2="566.3" y2="117.7" stroke="#18d018" stroke-width="2.2" stroke-linecap="round" opacity="1.0"/>
<line x1="573.5" y1="107.3" x2="573.4" y2="115.8" stroke="#30ff20" stroke-width="2.2" stroke-linecap="round" opacity="1.0"/>
<line x1="612.0" y1="159.3" x2="618.2" y2="165.1" stroke="#0c9c08" stroke-width="2.2" stroke-linecap="round" opacity="1.0"/>
<line x1="599.3" y1="136.3" x2="604.5" y2="144.6" stroke="#0c9c08" stroke-width="2.2" stroke-linecap="round" opacity="1.0"/>
<line x1="581.0" y1="104.5" x2="580.4" y2="110.7" stroke="#10e010" stroke-width="2.2" stroke-linecap="round" opacity="1.0"/>
<line x1="559.1" y1="152.0" x2="566.5" y2="155.7" stroke="#28f828" stroke-width="2.2" stroke-linecap="round" opacity="1.0"/>
<line x1="560.2" y1="127.5" x2="564.3" y2="136.1" stroke="#28f828" stroke-width="2.2" stroke-linecap="round" opacity="1.0"/>
<line x1="577.3" y1="153.3" x2="581.3" y2="160.7" stroke="#18d018" stroke-width="2.2" stroke-linecap="round" opacity="1.0"/>
<line x1="584.6" y1="102.6" x2="587.4" y2="109.4" stroke="#30ff20" stroke-width="2.2" stroke-linecap="round" opacity="1.0"/>
<line x1="583.2" y1="160.0" x2="588.1" y2="164.7" stroke="#28f828" stroke-width="2.2" stroke-linecap="round" opacity="1.0"/>
<line x1="576.1" y1="158.3" x2="580.7" y2="166.1" stroke="#30ff20" stroke-width="2.2" stroke-linecap="round" opacity="1.0"/>
<line x1="598.7" y1="119.0" x2="599.6" y2="125.6" stroke="#20f020" stroke-width="2.2" stroke-linecap="round" opacity="1.0"/>
<line x1="586.2" y1="168.4" x2="591.8" y2="172.5" stroke="#20f020" stroke-width="2.2" stroke-linecap="round" opacity="1.0"/>
<line x1="603.9" y1="171.4" x2="608.1" y2="176.8" stroke="#28f828" stroke-width="2.2" stroke-linecap="round" opacity="1.0"/>
<line x1="584.4" y1="161.9" x2="588.7" y2="170.1" stroke="#18d018" stroke-width="2.2" stroke-linecap="round" opacity="1.0"/>
<line x1="570.2" y1="159.0" x2="573.9" y2="165.8" stroke="#0c9c08" stroke-width="2.2" stroke-linecap="round" opacity="1.0"/>
<line x1="577.7" y1="115.2" x2="579.5" y2="121.8" stroke="#20f020" stroke-width="2.2" stroke-linecap="round" opacity="1.0"/>
<line x1="592.5" y1="173.9" x2="599.2" y2="177.4" stroke="#0c9c08" stroke-width="2.2" stroke-linecap="round" opacity="1.0"/>
<line x1="598.5" y1="140.2" x2="606.5" y2="144.8" stroke="#30ff20" stroke-width="2.2" stroke-linecap="round" opacity="1.0"/>
<line x1="598.8" y1="138.6" x2="602.7" y2="143.6" stroke="#20f020" stroke-width="2.2" stroke-linecap="round" opacity="1.0"/>
<line x1="565.0" y1="105.3" x2="568.1" y2="114.4" stroke="#0c9c08" stroke-width="2.2" stroke-linecap="round" opacity="1.0"/>
<line x1="575.1" y1="147.6" x2="580.4" y2="150.5" stroke="#0c9c08" stroke-width="2.2" stroke-linecap="round" opacity="1.0"/>
<line x1="594.4" y1="143.6" x2="598.2" y2="150.3" stroke="#20f020" stroke-width="2.2" stroke-linecap="round" opacity="1.0"/>
<line x1="570.6" y1="121.2" x2="572.7" y2="129.3" stroke="#30ff20" stroke-width="2.2" stroke-linecap="round" opacity="1.0"/>
<line x1="585.7" y1="173.7" x2="593.8" y2="177.5" stroke="#18d018" stroke-width="2.2" stroke-linecap="round" opacity="1.0"/>
<line x1="593.7" y1="170.6" x2="600.4" y2="177.0" stroke="#28f828" stroke-width="2.2" stroke-linecap="round" opacity="1.0"/>
<line x1="564.1" y1="107.4" x2="564.2" y2="116.9" stroke="#20f020" stroke-width="2.2" stroke-linecap="round" opacity="1.0"/>
<line x1="590.9" y1="168.6" x2="596.6" y2="171.8" stroke="#28f828" stroke-width="2.2" stroke-linecap="round" opacity="1.0"/>
<line x1="597.7" y1="147.4" x2="604.2" y2="152.1" stroke="#28f828" stroke-width="2.2" stroke-linecap="round" opacity="1.0"/>
<line x1="584.3" y1="167.6" x2="587.5" y2="172.9" stroke="#20f020" stroke-width="2.2" stroke-linecap="round" opacity="1.0"/>
<line x1="570.2" y1="167.0" x2="576.2" y2="172.6" stroke="#10e010" stroke-width="2.2" stroke-linecap="round" opacity="1.0"/>
<line x1="580.5" y1="152.2" x2="586.4" y2="157.7" stroke="#0c9c08" stroke-width="2.2" stroke-linecap="round" opacity="1.0"/>
<line x1="570.9" y1="142.0" x2="575.5" y2="148.6" stroke="#20f020" stroke-width="2.2" stroke-linecap="round" opacity="1.0"/>
<line x1="597.6" y1="176.4" x2="601.1" y2="182.6" stroke="#28f828" stroke-width="2.2" stroke-linecap="round" opacity="1.0"/>
<line x1="583.3" y1="133.1" x2="584.2" y2="140.4" stroke="#0c9c08" stroke-width="2.2" stroke-linecap="round" opacity="1.0"/>
<line x1="571.5" y1="100.3" x2="570.3" y2="109.3" stroke="#20f020" stroke-width="2.2" stroke-linecap="round" opacity="1.0"/>
<line x1="611.5" y1="155.7" x2="617.0" y2="160.0" stroke="#20f020" stroke-width="2.2" stroke-linecap="round" opacity="1.0"/>
<line x1="580.0" y1="143.9" x2="585.5" y2="148.0" stroke="#30ff20" stroke-width="2.2" stroke-linecap="round" opacity="1.0"/>
<line x1="561.1" y1="128.2" x2="562.4" y2="135.9" stroke="#0c9c08" stroke-width="2.2" stroke-linecap="round" opacity="1.0"/>
<line x1="590.2" y1="143.5" x2="599.2" y2="147.8" stroke="#20f020" stroke-width="2.2" stroke-linecap="round" opacity="1.0"/>
<line x1="573.3" y1="98.2" x2="571.7" y2="105.1" stroke="#20f020" stroke-width="2.2" stroke-linecap="round" opacity="1.0"/>
<line x1="603.7" y1="173.3" x2="610.0" y2="180.8" stroke="#18d018" stroke-width="2.2" stroke-linecap="round" opacity="1.0"/>
<line x1="588.6" y1="161.7" x2="594.2" y2="164.5" stroke="#0c9c08" stroke-width="2.2" stroke-linecap="round" opacity="1.0"/>
<line x1="571.3" y1="96.3" x2="574.0" y2="102.8" stroke="#28f828" stroke-width="2.2" stroke-linecap="round" opacity="1.0"/>
<line x1="575.3" y1="146.4" x2="578.8" y2="152.5" stroke="#20f020" stroke-width="2.2" stroke-linecap="round" opacity="1.0"/>
<line x1="573.8" y1="110.9" x2="570.7" y2="118.8" stroke="#28f828" stroke-width="2.2" stroke-linecap="round" opacity="1.0"/>
<line x1="603.0" y1="121.6" x2="603.2" y2="128.3" stroke="#30ff20" stroke-width="2.2" stroke-linecap="round" opacity="1.0"/>
<line x1="587.6" y1="116.5" x2="588.2" y2="125.2" stroke="#0c9c08" stroke-width="2.2" stroke-linecap="round" opacity="1.0"/>
<line x1="580.7" y1="140.9" x2="584.9" y2="147.2" stroke="#28f828" stroke-width="2.2" stroke-linecap="round" opacity="1.0"/>
<line x1="574.2" y1="114.7" x2="576.0" y2="121.3" stroke="#0c9c08" stroke-width="2.2" stroke-linecap="round" opacity="1.0"/>
<line x1="603.2" y1="106.5" x2="599.2" y2="115.5" stroke="#20f020" stroke-width="2.2" stroke-linecap="round" opacity="1.0"/>
<line x1="577.6" y1="141.4" x2="581.6" y2="148.8" stroke="#0c9c08" stroke-width="2.2" stroke-linecap="round" opacity="1.0"/>
<line x1="570.8" y1="138.8" x2="577.6" y2="142.6" stroke="#30ff20" stroke-width="2.2" stroke-linecap="round" opacity="1.0"/>
<line x1="580.0" y1="125.3" x2="577.1" y2="131.9" stroke="#10e010" stroke-width="2.2" stroke-linecap="round" opacity="1.0"/>
<line x1="577.2" y1="139.8" x2="582.1" y2="144.5" stroke="#28f828" stroke-width="2.2" stroke-linecap="round" opacity="1.0"/>
<line x1="591.5" y1="130.5" x2="593.2" y2="138.8" stroke="#10e010" stroke-width="2.2" stroke-linecap="round" opacity="1.0"/>
<line x1="589.7" y1="143.8" x2="594.9" y2="150.7" stroke="#0c9c08" stroke-width="2.2" stroke-linecap="round" opacity="1.0"/>
<line x1="602.0" y1="149.9" x2="607.2" y2="157.1" stroke="#18d018" stroke-width="2.2" stroke-linecap="round" opacity="1.0"/>
<line x1="604.8" y1="177.6" x2="610.8" y2="184.3" stroke="#28f828" stroke-width="2.2" stroke-linecap="round" opacity="1.0"/>
<line x1="561.2" y1="143.5" x2="568.0" y2="149.9" stroke="#10e010" stroke-width="2.2" stroke-linecap="round" opacity="1.0"/>
<line x1="605.0" y1="148.6" x2="609.5" y2="156.0" stroke="#0c9c08" stroke-width="2.2" stroke-linecap="round" opacity="1.0"/>
<line x1="571.0" y1="119.4" x2="571.3" y2="125.7" stroke="#28f828" stroke-width="2.2" stroke-linecap="round" opacity="1.0"/>
<line x1="585.2" y1="164.3" x2="592.0" y2="170.4" stroke="#30ff20" stroke-width="2.2" stroke-linecap="round" opacity="1.0"/>
<line x1="566.9" y1="166.1" x2="574.2" y2="170.6" stroke="#18d018" stroke-width="2.2" stroke-linecap="round" opacity="1.0"/>
<line x1="586.5" y1="129.2" x2="586.8" y2="137.9" stroke="#10e010" stroke-width="2.2" stroke-linecap="round" opacity="1.0"/>
<line x1="591.3" y1="156.3" x2="597.2" y2="159.2" stroke="#30ff20" stroke-width="2.2" stroke-linecap="round" opacity="1.0"/>
<line x1="594.2" y1="160.0" x2="598.6" y2="164.9" stroke="#18d018" stroke-width="2.2" stroke-linecap="round" opacity="1.0"/>
<line x1="560.3" y1="118.7" x2="559.2" y2="127.3" stroke="#0c9c08" stroke-width="2.2" stroke-linecap="round" opacity="1.0"/>
<line x1="583.1" y1="161.7" x2="589.6" y2="166.1" stroke="#10e010" stroke-width="2.2" stroke-linecap="round" opacity="1.0"/>
<line x1="575.2" y1="102.4" x2="575.5" y2="109.6" stroke="#10e010" stroke-width="2.2" stroke-linecap="round" opacity="1.0"/>
<line x1="604.2" y1="185.7" x2="609.5" y2="190.4" stroke="#20f020" stroke-width="2.2" stroke-linecap="round" opacity="1.0"/>
<line x1="610.0" y1="183.2" x2="615.7" y2="185.9" stroke="#0c9c08" stroke-width="2.2" stroke-linecap="round" opacity="1.0"/>
<line x1="585.4" y1="177.8" x2="589.7" y2="183.2" stroke="#18d018" stroke-width="2.2" stroke-linecap="round" opacity="1.0"/>
<line x1="582.1" y1="108.7" x2="578.8" y2="116.8" stroke="#18d018" stroke-width="2.2" stroke-linecap="round" opacity="1.0"/>
<line x1="574.1" y1="107.5" x2="575.3" y2="114.7" stroke="#30ff20" stroke-width="2.2" stroke-linecap="round" opacity="1.0"/>
<line x1="611.6" y1="161.2" x2="615.3" y2="167.4" stroke="#30ff20" stroke-width="2.2" stroke-linecap="round" opacity="1.0"/>
<line x1="561.0" y1="131.3" x2="559.1" y2="137.3" stroke="#18d018" stroke-width="2.2" stroke-linecap="round" opacity="1.0"/>
<line x1="600.3" y1="175.7" x2="605.4" y2="179.2" stroke="#0c9c08" stroke-width="2.2" stroke-linecap="round" opacity="1.0"/>
<line x1="571.4" y1="119.3" x2="571.5" y2="126.1" stroke="#30ff20" stroke-width="2.2" stroke-linecap="round" opacity="1.0"/>
<line x1="588.5" y1="112.4" x2="592.2" y2="121.4" stroke="#18d018" stroke-width="2.2" stroke-linecap="round" opacity="1.0"/>
<line x1="581.6" y1="165.3" x2="586.3" y2="170.7" stroke="#10e010" stroke-width="2.2" stroke-linecap="round" opacity="1.0"/>
<line x1="565.8" y1="133.2" x2="567.3" y2="140.0" stroke="#0c9c08" stroke-width="2.2" stroke-linecap="round" opacity="1.0"/>
<line x1="596.8" y1="122.2" x2="596.6" y2="129.8" stroke="#20f020" stroke-width="2.2" stroke-linecap="round" opacity="1.0"/>
<line x1="584.3" y1="170.7" x2="589.8" y2="176.3" stroke="#30ff20" stroke-width="2.2" stroke-linecap="round" opacity="1.0"/>
<line x1="563.3" y1="112.5" x2="566.1" y2="119.3" stroke="#10e010" stroke-width="2.2" stroke-linecap="round" opacity="1.0"/>
<line x1="576.7" y1="129.0" x2="574.9" y2="135.5" stroke="#10e010" stroke-width="2.2" stroke-linecap="round" opacity="1.0"/>
<line x1="578.8" y1="144.5" x2="584.6" y2="149.0" stroke="#10e010" stroke-width="2.2" stroke-linecap="round" opacity="1.0"/>
<line x1="583.4" y1="148.8" x2="590.4" y2="154.1" stroke="#28f828" stroke-width="2.2" stroke-linecap="round" opacity="1.0"/>
<line x1="592.0" y1="176.4" x2="598.1" y2="180.1" stroke="#20f020" stroke-width="2.2" stroke-linecap="round" opacity="1.0"/>
<line x1="577.1" y1="155.7" x2="582.6" y2="160.4" stroke="#10e010" stroke-width="2.2" stroke-linecap="round" opacity="1.0"/>
<line x1="564.9" y1="133.0" x2="562.9" y2="142.0" stroke="#28f828" stroke-width="2.2" stroke-linecap="round" opacity="1.0"/>
<line x1="585.3" y1="138.5" x2="592.2" y2="144.5" stroke="#20f020" stroke-width="2.2" stroke-linecap="round" opacity="1.0"/>
<line x1="562.5" y1="142.8" x2="568.7" y2="150.3" stroke="#0c9c08" stroke-width="2.2" stroke-linecap="round" opacity="1.0"/>
<line x1="597.8" y1="174.0" x2="601.1" y2="179.4" stroke="#10e010" stroke-width="2.2" stroke-linecap="round" opacity="1.0"/>
<line x1="597.6" y1="184.5" x2="603.0" y2="190.5" stroke="#18d018" stroke-width="2.2" stroke-linecap="round" opacity="1.0"/>
<line x1="597.7" y1="104.7" x2="600.9" y2="112.1" stroke="#28f828" stroke-width="2.2" stroke-linecap="round" opacity="1.0"/>
<line x1="568.6" y1="119.3" x2="567.2" y2="125.2" stroke="#28f828" stroke-width="2.2" stroke-linecap="round" opacity="1.0"/>
<line x1="572.6" y1="137.1" x2="576.7" y2="144.6" stroke="#20f020" stroke-width="2.2" stroke-linecap="round" opacity="1.0"/>
<line x1="584.3" y1="115.1" x2="586.7" y2="124.6" stroke="#0c9c08" stroke-width="2.2" stroke-linecap="round" opacity="1.0"/>
<line x1="569.6" y1="133.5" x2="570.7" y2="141.4" stroke="#0c9c08" stroke-width="2.2" stroke-linecap="round" opacity="1.0"/>
<line x1="577.4" y1="133.8" x2="576.5" y2="140.5" stroke="#30ff20" stroke-width="2.2" stroke-linecap="round" opacity="1.0"/>
<line x1="597.6" y1="142.4" x2="606.1" y2="147.5" stroke="#30ff20" stroke-width="2.2" stroke-linecap="round" opacity="1.0"/>
<line x1="603.3" y1="112.5" x2="603.7" y2="119.6" stroke="#30ff20" stroke-width="2.2" stroke-linecap="round" opacity="1.0"/>
<line x1="590.3" y1="178.1" x2="597.4" y2="184.6" stroke="#10e010" stroke-width="2.2" stroke-linecap="round" opacity="1.0"/>
<line x1="581.7" y1="114.8" x2="579.1" y2="120.8" stroke="#10e010" stroke-width="2.2" stroke-linecap="round" opacity="1.0"/>
<line x1="599.7" y1="110.7" x2="600.3" y2="119.5" stroke="#30ff20" stroke-width="2.2" stroke-linecap="round" opacity="1.0"/>
<line x1="596.7" y1="129.6" x2="597.7" y2="136.8" stroke="#20f020" stroke-width="2.2" stroke-linecap="round" opacity="1.0"/>
<line x1="562.3" y1="133.2" x2="559.7" y2="141.0" stroke="#20f020" stroke-width="2.2" stroke-linecap="round" opacity="1.0"/>
<line x1="575.8" y1="166.8" x2="583.3" y2="172.2" stroke="#10e010" stroke-width="2.2" stroke-linecap="round" opacity="1.0"/>
<line x1="555.2" y1="139.1" x2="562.9" y2="145.0" stroke="#20f020" stroke-width="2.2" stroke-linecap="round" opacity="1.0"/>
<line x1="572.9" y1="163.7" x2="579.2" y2="169.4" stroke="#20f020" stroke-width="2.2" stroke-linecap="round" opacity="1.0"/>
<line x1="603.5" y1="168.0" x2="609.1" y2="170.6" stroke="#10e010" stroke-width="2.2" stroke-linecap="round" opacity="1.0"/>
<line x1="568.4" y1="100.1" x2="567.8" y2="107.6" stroke="#30ff20" stroke-width="2.2" stroke-linecap="round" opacity="1.0"/>
<line x1="569.4" y1="162.6" x2="575.1" y2="166.7" stroke="#10e010" stroke-width="2.2" stroke-linecap="round" opacity="1.0"/>
<line x1="597.9" y1="149.4" x2="603.5" y2="157.4" stroke="#10e010" stroke-width="2.2" stroke-linecap="round" opacity="1.0"/>
<line x1="571.4" y1="133.1" x2="571.7" y2="142.8" stroke="#20f020" stroke-width="2.2" stroke-linecap="round" opacity="1.0"/>
<line x1="571.8" y1="160.7" x2="577.8" y2="164.0" stroke="#30ff20" stroke-width="2.2" stroke-linecap="round" opacity="1.0"/>
<line x1="581.8" y1="168.0" x2="587.3" y2="173.8" stroke="#18d018" stroke-width="2.2" stroke-linecap="round" opacity="1.0"/>
<line x1="601.4" y1="118.2" x2="603.9" y2="123.8" stroke="#28f828" stroke-width="2.2" stroke-linecap="round" opacity="1.0"/>
<line x1="589.5" y1="109.7" x2="590.0" y2="116.1" stroke="#10e010" stroke-width="2.2" stroke-linecap="round" opacity="1.0"/>
<line x1="570.9" y1="102.1" x2="573.9" y2="109.5" stroke="#0c9c08" stroke-width="2.2" stroke-linecap="round" opacity="1.0"/>
<line x1="562.4" y1="137.9" x2="566.0" y2="143.8" stroke="#28f828" stroke-width="2.2" stroke-linecap="round" opacity="1.0"/>
<line x1="604.4" y1="157.6" x2="612.7" y2="162.0" stroke="#30ff20" stroke-width="2.2" stroke-linecap="round" opacity="1.0"/>
<line x1="572.5" y1="119.5" x2="574.2" y2="126.3" stroke="#18d018" stroke-width="2.2" stroke-linecap="round" opacity="1.0"/>
<line x1="569.8" y1="116.3" x2="572.9" y2="125.3" stroke="#28f828" stroke-width="2.2" stroke-linecap="round" opacity="1.0"/>
<line x1="566.8" y1="100.6" x2="568.5" y2="107.4" stroke="#28f828" stroke-width="2.2" stroke-linecap="round" opacity="1.0"/>
<line x1="559.7" y1="138.3" x2="565.0" y2="146.0" stroke="#30ff20" stroke-width="2.2" stroke-linecap="round" opacity="1.0"/>
<line x1="557.3" y1="122.2" x2="559.7" y2="128.5" stroke="#28f828" stroke-width="2.2" stroke-linecap="round" opacity="1.0"/>
<line x1="568.0" y1="101.6" x2="568.1" y2="108.3" stroke="#28f828" stroke-width="2.2" stroke-linecap="round" opacity="1.0"/>
<line x1="570.6" y1="167.5" x2="573.7" y2="173.1" stroke="#28f828" stroke-width="2.2" stroke-linecap="round" opacity="1.0"/>
<line x1="598.4" y1="127.2" x2="601.6" y2="133.9" stroke="#10e010" stroke-width="2.2" stroke-linecap="round" opacity="1.0"/>
<line x1="568.9" y1="117.4" x2="568.4" y2="126.0" stroke="#20f020" stroke-width="2.2" stroke-linecap="round" opacity="1.0"/>
<line x1="603.6" y1="171.8" x2="609.4" y2="176.5" stroke="#28f828" stroke-width="2.2" stroke-linecap="round" opacity="1.0"/>
<line x1="576.3" y1="112.9" x2="574.4" y2="120.9" stroke="#10e010" stroke-width="2.2" stroke-linecap="round" opacity="1.0"/>
<line x1="579.2" y1="169.5" x2="583.5" y2="174.5" stroke="#28f828" stroke-width="2.2" stroke-linecap="round" opacity="1.0"/>
<line x1="562.2" y1="109.4" x2="561.1" y2="117.0" stroke="#30ff20" stroke-width="2.2" stroke-linecap="round" opacity="1.0"/>
<line x1="595.6" y1="132.8" x2="599.3" y2="141.0" stroke="#30ff20" stroke-width="2.2" stroke-linecap="round" opacity="1.0"/>
<line x1="601.0" y1="169.8" x2="606.0" y2="175.5" stroke="#18d018" stroke-width="2.2" stroke-linecap="round" opacity="1.0"/>
<line x1="588.6" y1="154.8" x2="591.8" y2="160.3" stroke="#28f828" stroke-width="2.2" stroke-linecap="round" opacity="1.0"/>
<line x1="610.3" y1="164.7" x2="616.7" y2="168.4" stroke="#20f020" stroke-width="2.2" stroke-linecap="round" opacity="1.0"/>
<line x1="559.9" y1="139.6" x2="565.6" y2="147.7" stroke="#20f020" stroke-width="2.2" stroke-linecap="round" opacity="1.0"/>
<line x1="573.4" y1="152.1" x2="577.6" y2="156.9" stroke="#0c9c08" stroke-width="2.2" stroke-linecap="round" opacity="1.0"/>
<line x1="590.5" y1="172.4" x2="598.4" y2="176.9" stroke="#20f020" stroke-width="2.2" stroke-linecap="round" opacity="1.0"/>
<line x1="591.1" y1="153.2" x2="597.9" y2="157.2" stroke="#28f828" stroke-width="2.2" stroke-linecap="round" opacity="1.0"/>
<line x1="569.5" y1="131.4" x2="569.5" y2="138.9" stroke="#10e010" stroke-width="2.2" stroke-linecap="round" opacity="1.0"/>
<line x1="608.0" y1="173.0" x2="613.6" y2="179.7" stroke="#30ff20" stroke-width="2.2" stroke-linecap="round" opacity="1.0"/>
<line x1="560.3" y1="150.7" x2="566.3" y2="156.8" stroke="#30ff20" stroke-width="2.2" stroke-linecap="round" opacity="1.0"/>
<line x1="595.3" y1="123.0" x2="597.2" y2="130.3" stroke="#30ff20" stroke-width="2.2" stroke-linecap="round" opacity="1.0"/>
<line x1="581.9" y1="135.0" x2="585.5" y2="142.6" stroke="#18d018" stroke-width="2.2" stroke-linecap="round" opacity="1.0"/>
<line x1="585.2" y1="134.9" x2="584.4" y2="144.2" stroke="#20f020" stroke-width="2.2" stroke-linecap="round" opacity="1.0"/>
<line x1="559.5" y1="126.8" x2="560.8" y2="135.9" stroke="#28f828" stroke-width="2.2" stroke-linecap="round" opacity="1.0"/>
<line x1="599.2" y1="168.2" x2="603.7" y2="172.5" stroke="#28f828" stroke-width="2.2" stroke-linecap="round" opacity="1.0"/>
<line x1="609.7" y1="156.2" x2="613.3" y2="161.2" stroke="#10e010" stroke-width="2.2" stroke-linecap="round" opacity="1.0"/>
<line x1="573.6" y1="166.0" x2="581.9" y2="170.7" stroke="#30ff20" stroke-width="2.2" stroke-linecap="round" opacity="1.0"/>
<line x1="583.4" y1="150.5" x2="588.1" y2="155.6" stroke="#30ff20" stroke-width="2.2" stroke-linecap="round" opacity="1.0"/>
<line x1="594.2" y1="179.0" x2="602.1" y2="183.5" stroke="#10e010" stroke-width="2.2" stroke-linecap="round" opacity="1.0"/>
<line x1="606.2" y1="185.2" x2="612.3" y2="190.5" stroke="#0c9c08" stroke-width="2.2" stroke-linecap="round" opacity="1.0"/>
<line x1="576.3" y1="169.4" x2="584.6" y2="174.9" stroke="#28f828" stroke-width="2.2" stroke-linecap="round" opacity="1.0"/>
<line x1="563.7" y1="125.6" x2="566.4" y2="132.0" stroke="#28f828" stroke-width="2.2" stroke-linecap="round" opacity="1.0"/>
<line x1="589.9" y1="158.0" x2="594.8" y2="161.5" stroke="#10e010" stroke-width="2.2" stroke-linecap="round" opacity="1.0"/>
<line x1="570.1" y1="121.2" x2="569.4" y2="128.9" stroke="#30ff20" stroke-width="2.2" stroke-linecap="round" opacity="1.0"/>
<line x1="567.3" y1="157.5" x2="572.8" y2="160.0" stroke="#30ff20" stroke-width="2.2" stroke-linecap="round" opacity="1.0"/>
<line x1="572.1" y1="144.0" x2="577.6" y2="149.3" stroke="#30ff20" stroke-width="2.2" stroke-linecap="round" opacity="1.0"/>
<line x1="592.9" y1="113.1" x2="592.2" y2="120.9" stroke="#20f020" stroke-width="2.2" stroke-linecap="round" opacity="1.0"/>
<line x1="598.5" y1="136.9" x2="601.2" y2="142.9" stroke="#0c9c08" stroke-width="2.2" stroke-linecap="round" opacity="1.0"/>
<line x1="572.8" y1="95.0" x2="571.9" y2="103.2" stroke="#30ff20" stroke-width="2.2" stroke-linecap="round" opacity="1.0"/>
<line x1="590.1" y1="148.8" x2="595.6" y2="154.8" stroke="#18d018" stroke-width="2.2" stroke-linecap="round" opacity="1.0"/>
<line x1="579.3" y1="115.9" x2="583.0" y2="124.3" stroke="#10e010" stroke-width="2.2" stroke-linecap="round" opacity="1.0"/>
<line x1="590.7" y1="157.1" x2="597.3" y2="161.0" stroke="#28f828" stroke-width="2.2" stroke-linecap="round" opacity="1.0"/>
<line x1="590.6" y1="141.7" x2="596.8" y2="148.6" stroke="#20f020" stroke-width="2.2" stroke-linecap="round" opacity="1.0"/>
<line x1="598.2" y1="139.8" x2="603.6" y2="145.1" stroke="#18d018" stroke-width="2.2" stroke-linecap="round" opacity="1.0"/>
<line x1="599.8" y1="138.2" x2="604.6" y2="144.4" stroke="#20f020" stroke-width="2.2" stroke-linecap="round" opacity="1.0"/>
<line x1="597.5" y1="104.9" x2="594.4" y2="114.1" stroke="#30ff20" stroke-width="2.2" stroke-linecap="round" opacity="1.0"/>
<line x1="600.2" y1="118.9" x2="600.0" y2="126.6" stroke="#28f828" stroke-width="2.2" stroke-linecap="round" opacity="1.0"/>
<line x1="557.1" y1="142.8" x2="565.5" y2="147.6" stroke="#0c9c08" stroke-width="2.2" stroke-linecap="round" opacity="1.0"/>
<line x1="569.7" y1="109.6" x2="567.4" y2="116.0" stroke="#18d018" stroke-width="2.2" stroke-linecap="round" opacity="1.0"/>
<line x1="577.8" y1="116.2" x2="574.9" y2="124.3" stroke="#0c9c08" stroke-width="2.2" stroke-linecap="round" opacity="1.0"/>
<line x1="587.1" y1="139.8" x2="591.4" y2="144.0" stroke="#10e010" stroke-width="2.2" stroke-linecap="round" opacity="1.0"/>
<line x1="580.6" y1="162.8" x2="585.6" y2="168.0" stroke="#20f020" stroke-width="2.2" stroke-linecap="round" opacity="1.0"/>
<line x1="577.9" y1="150.0" x2="582.6" y2="154.8" stroke="#10e010" stroke-width="2.2" stroke-linecap="round" opacity="1.0"/>
<line x1="593.4" y1="160.3" x2="597.2" y2="165.3" stroke="#28f828" stroke-width="2.2" stroke-linecap="round" opacity="1.0"/>
<line x1="604.8" y1="112.8" x2="601.7" y2="120.3" stroke="#0c9c08" stroke-width="2.2" stroke-linecap="round" opacity="1.0"/>
<line x1="609.7" y1="184.3" x2="615.7" y2="187.4" stroke="#10e010" stroke-width="2.2" stroke-linecap="round" opacity="1.0"/>
<line x1="608.5" y1="166.1" x2="616.5" y2="170.1" stroke="#0c9c08" stroke-width="2.2" stroke-linecap="round" opacity="1.0"/>
<line x1="572.1" y1="103.1" x2="575.5" y2="111.5" stroke="#20f020" stroke-width="2.2" stroke-linecap="round" opacity="1.0"/>
<line x1="573.4" y1="125.7" x2="575.1" y2="132.9" stroke="#30ff20" stroke-width="2.2" stroke-linecap="round" opacity="1.0"/>
<line x1="609.7" y1="166.6" x2="615.1" y2="172.4" stroke="#30ff20" stroke-width="2.2" stroke-linecap="round" opacity="1.0"/>
<line x1="582.4" y1="135.0" x2="580.8" y2="142.2" stroke="#0c9c08" stroke-width="2.2" stroke-linecap="round" opacity="1.0"/>
<line x1="597.8" y1="172.4" x2="602.8" y2="177.6" stroke="#18d018" stroke-width="2.2" stroke-linecap="round" opacity="1.0"/>
<line x1="599.6" y1="187.4" x2="606.9" y2="190.5" stroke="#18d018" stroke-width="2.2" stroke-linecap="round" opacity="1.0"/>
<line x1="597.1" y1="171.1" x2="601.1" y2="178.4" stroke="#28f828" stroke-width="2.2" stroke-linecap="round" opacity="1.0"/>
<line x1="574.2" y1="114.0" x2="573.0" y2="121.9" stroke="#10e010" stroke-width="2.2" stroke-linecap="round" opacity="1.0"/>
<line x1="590.2" y1="104.6" x2="591.4" y2="110.9" stroke="#18d018" stroke-width="2.2" stroke-linecap="round" opacity="1.0"/>
<line x1="608.0" y1="164.6" x2="614.6" y2="170.1" stroke="#30ff20" stroke-width="2.2" stroke-linecap="round" opacity="1.0"/>
<line x1="570.1" y1="118.7" x2="567.4" y2="126.3" stroke="#18d018" stroke-width="2.2" stroke-linecap="round" opacity="1.0"/>
<line x1="590.7" y1="159.8" x2="594.9" y2="164.3" stroke="#28f828" stroke-width="2.2" stroke-linecap="round" opacity="1.0"/>
<line x1="577.5" y1="108.3" x2="575.0" y2="116.6" stroke="#0c9c08" stroke-width="2.2" stroke-linecap="round" opacity="1.0"/>
<line x1="573.8" y1="138.4" x2="578.3" y2="143.8" stroke="#20f020" stroke-width="2.2" stroke-linecap="round" opacity="1.0"/>
<line x1="562.0" y1="138.0" x2="565.6" y2="143.9" stroke="#20f020" stroke-width="2.2" stroke-linecap="round" opacity="1.0"/>
<line x1="570.2" y1="164.7" x2="574.9" y2="171.7" stroke="#0c9c08" stroke-width="2.2" stroke-linecap="round" opacity="1.0"/>
<line x1="565.0" y1="117.0" x2="566.4" y2="125.0" stroke="#20f020" stroke-width="2.2" stroke-linecap="round" opacity="1.0"/>
<line x1="595.7" y1="113.1" x2="597.9" y2="119.3" stroke="#30ff20" stroke-width="2.2" stroke-linecap="round" opacity="1.0"/>
<line x1="600.2" y1="134.4" x2="602.7" y2="142.5" stroke="#10e010" stroke-width="2.2" stroke-linecap="round" opacity="1.0"/>
<line x1="573.3" y1="95.7" x2="575.4" y2="104.4" stroke="#10e010" stroke-width="2.2" stroke-linecap="round" opacity="1.0"/>
<line x1="598.8" y1="179.8" x2="605.1" y2="185.1" stroke="#0c9c08" stroke-width="2.2" stroke-linecap="round" opacity="1.0"/>
<line x1="593.3" y1="173.4" x2="598.9" y2="180.0" stroke="#0c9c08" stroke-width="2.2" stroke-linecap="round" opacity="1.0"/>
<line x1="596.7" y1="174.0" x2="602.1" y2="180.6" stroke="#18d018" stroke-width="2.2" stroke-linecap="round" opacity="1.0"/>
<line x1="583.6" y1="117.4" x2="582.1" y2="126.9" stroke="#20f020" stroke-width="2.2" stroke-linecap="round" opacity="1.0"/>
<line x1="602.2" y1="161.7" x2="606.8" y2="166.9" stroke="#18d018" stroke-width="2.2" stroke-linecap="round" opacity="1.0"/>
<line x1="595.1" y1="176.1" x2="598.9" y2="182.3" stroke="#10e010" stroke-width="2.2" stroke-linecap="round" opacity="1.0"/>
<line x1="578.7" y1="140.8" x2="581.5" y2="146.3" stroke="#28f828" stroke-width="2.2" stroke-linecap="round" opacity="1.0"/>
<line x1="567.9" y1="161.6" x2="571.2" y2="167.6" stroke="#30ff20" stroke-width="2.2" stroke-linecap="round" opacity="1.0"/>
<line x1="559.1" y1="148.3" x2="565.4" y2="154.5" stroke="#28f828" stroke-width="2.2" stroke-linecap="round" opacity="1.0"/>
<line x1="579.7" y1="126.0" x2="578.2" y2="133.7" stroke="#0c9c08" stroke-width="2.2" stroke-linecap="round" opacity="1.0"/>
<line x1="565.2" y1="141.9" x2="569.6" y2="149.7" stroke="#28f828" stroke-width="2.2" stroke-linecap="round" opacity="1.0"/>
<line x1="577.2" y1="99.6" x2="578.9" y2="107.0" stroke="#10e010" stroke-width="2.2" stroke-linecap="round" opacity="1.0"/>
<line x1="592.7" y1="158.4" x2="597.2" y2="163.1" stroke="#30ff20" stroke-width="2.2" stroke-linecap="round" opacity="1.0"/>
<line x1="599.5" y1="183.0" x2="604.4" y2="187.8" stroke="#18d018" stroke-width="2.2" stroke-linecap="round" opacity="1.0"/>
<line x1="585.8" y1="110.4" x2="583.5" y2="116.2" stroke="#0c9c08" stroke-width="2.2" stroke-linecap="round" opacity="1.0"/>
<line x1="565.1" y1="154.1" x2="570.8" y2="161.4" stroke="#20f020" stroke-width="2.2" stroke-linecap="round" opacity="1.0"/>
<line x1="575.3" y1="153.6" x2="580.5" y2="161.2" stroke="#18d018" stroke-width="2.2" stroke-linecap="round" opacity="1.0"/>
<line x1="592.9" y1="167.5" x2="599.7" y2="173.6" stroke="#20f020" stroke-width="2.2" stroke-linecap="round" opacity="1.0"/>
<line x1="571.7" y1="129.2" x2="573.5" y2="136.7" stroke="#20f020" stroke-width="2.2" stroke-linecap="round" opacity="1.0"/>
<line x1="583.7" y1="169.9" x2="588.0" y2="175.9" stroke="#0c9c08" stroke-width="2.2" stroke-linecap="round" opacity="1.0"/>
<line x1="571.4" y1="139.8" x2="578.0" y2="145.4" stroke="#0c9c08" stroke-width="2.2" stroke-linecap="round" opacity="1.0"/>
<line x1="573.2" y1="130.0" x2="576.4" y2="137.6" stroke="#30ff20" stroke-width="2.2" stroke-linecap="round" opacity="1.0"/>
<line x1="605.8" y1="107.0" x2="603.4" y2="115.2" stroke="#10e010" stroke-width="2.2" stroke-linecap="round" opacity="1.0"/>
<line x1="595.3" y1="114.2" x2="598.2" y2="120.8" stroke="#28f828" stroke-width="2.2" stroke-linecap="round" opacity="1.0"/>
<line x1="561.1" y1="106.9" x2="563.5" y2="115.7" stroke="#30ff20" stroke-width="2.2" stroke-linecap="round" opacity="1.0"/>
<line x1="604.2" y1="113.3" x2="605.1" y2="121.4" stroke="#28f828" stroke-width="2.2" stroke-linecap="round" opacity="1.0"/>
<line x1="608.7" y1="151.1" x2="613.8" y2="158.1" stroke="#28f828" stroke-width="2.2" stroke-linecap="round" opacity="1.0"/>
<line x1="601.1" y1="173.8" x2="608.6" y2="178.3" stroke="#28f828" stroke-width="2.2" stroke-linecap="round" opacity="1.0"/>
<line x1="596.2" y1="105.3" x2="599.0" y2="112.5" stroke="#20f020" stroke-width="2.2" stroke-linecap="round" opacity="1.0"/>
<line x1="581.8" y1="146.6" x2="588.9" y2="153.1" stroke="#0c9c08" stroke-width="2.2" stroke-linecap="round" opacity="1.0"/>
<line x1="583.1" y1="141.0" x2="589.8" y2="147.6" stroke="#10e010" stroke-width="2.2" stroke-linecap="round" opacity="1.0"/>
<line x1="566.6" y1="123.9" x2="565.3" y2="131.8" stroke="#30ff20" stroke-width="2.2" stroke-linecap="round" opacity="1.0"/>
<line x1="592.0" y1="158.3" x2="595.6" y2="164.7" stroke="#10e010" stroke-width="2.2" stroke-linecap="round" opacity="1.0"/>
<line x1="586.1" y1="140.4" x2="589.2" y2="145.7" stroke="#0c9c08" stroke-width="2.2" stroke-linecap="round" opacity="1.0"/>
<line x1="580.1" y1="105.8" x2="583.4" y2="113.8" stroke="#30ff20" stroke-width="2.2" stroke-linecap="round" opacity="1.0"/>
<line x1="583.4" y1="144.1" x2="587.4" y2="149.6" stroke="#18d018" stroke-width="2.2" stroke-linecap="round" opacity="1.0"/>
<line x1="575.7" y1="118.1" x2="578.7" y2="124.7" stroke="#30ff20" stroke-width="2.2" stroke-linecap="round" opacity="1.0"/>
<line x1="587.2" y1="118.3" x2="587.3" y2="128.2" stroke="#0c9c08" stroke-width="2.2" stroke-linecap="round" opacity="1.0"/>
<line x1="585.2" y1="104.7" x2="587.8" y2="113.2" stroke="#20f020" stroke-width="2.2" stroke-linecap="round" opacity="1.0"/>
<line x1="590.6" y1="154.5" x2="594.2" y2="159.5" stroke="#0c9c08" stroke-width="2.2" stroke-linecap="round" opacity="1.0"/>
<line x1="590.5" y1="132.0" x2="590.2" y2="139.6" stroke="#10e010" stroke-width="2.2" stroke-linecap="round" opacity="1.0"/>
<line x1="594.6" y1="167.7" x2="598.9" y2="175.0" stroke="#28f828" stroke-width="2.2" stroke-linecap="round" opacity="1.0"/>
<line x1="596.0" y1="178.1" x2="601.5" y2="180.9" stroke="#0c9c08" stroke-width="2.2" stroke-linecap="round" opacity="1.0"/>
<line x1="581.4" y1="167.4" x2="587.4" y2="170.5" stroke="#10e010" stroke-width="2.2" stroke-linecap="round" opacity="1.0"/>
<line x1="583.2" y1="104.5" x2="581.1" y2="110.2" stroke="#20f020" stroke-width="2.2" stroke-linecap="round" opacity="1.0"/>
<line x1="601.8" y1="148.3" x2="607.8" y2="152.3" stroke="#18d018" stroke-width="2.2" stroke-linecap="round" opacity="1.0"/>
<line x1="589.1" y1="148.3" x2="593.1" y2="155.2" stroke="#28f828" stroke-width="2.2" stroke-linecap="round" opacity="1.0"/>
<line x1="604.3" y1="148.1" x2="608.2" y2="154.9" stroke="#10e010" stroke-width="2.2" stroke-linecap="round" opacity="1.0"/>
<line x1="596.2" y1="149.4" x2="600.1" y2="157.1" stroke="#20f020" stroke-width="2.2" stroke-linecap="round" opacity="1.0"/>
<line x1="583.9" y1="132.4" x2="587.1" y2="140.3" stroke="#20f020" stroke-width="2.2" stroke-linecap="round" opacity="1.0"/>
<line x1="609.2" y1="154.4" x2="613.8" y2="158.2" stroke="#0c9c08" stroke-width="2.2" stroke-linecap="round" opacity="1.0"/>
<line x1="601.2" y1="117.2" x2="600.0" y2="123.8" stroke="#10e010" stroke-width="2.2" stroke-linecap="round" opacity="1.0"/>
<line x1="576.6" y1="164.9" x2="580.8" y2="170.0" stroke="#10e010" stroke-width="2.2" stroke-linecap="round" opacity="1.0"/>
<line x1="571.0" y1="146.9" x2="577.4" y2="152.8" stroke="#30ff20" stroke-width="2.2" stroke-linecap="round" opacity="1.0"/>
<line x1="608.2" y1="159.1" x2="613.3" y2="164.7" stroke="#30ff20" stroke-width="2.2" stroke-linecap="round" opacity="1.0"/>
<line x1="602.4" y1="109.6" x2="600.0" y2="117.2" stroke="#10e010" stroke-width="2.2" stroke-linecap="round" opacity="1.0"/>
<line x1="596.8" y1="139.3" x2="605.4" y2="144.1" stroke="#10e010" stroke-width="2.2" stroke-linecap="round" opacity="1.0"/>
<line x1="576.0" y1="155.1" x2="581.1" y2="160.8" stroke="#18d018" stroke-width="2.2" stroke-linecap="round" opacity="1.0"/>
<line x1="570.0" y1="166.1" x2="575.7" y2="170.3" stroke="#28f828" stroke-width="2.2" stroke-linecap="round" opacity="1.0"/>
<line x1="614.3" y1="160.4" x2="618.4" y2="166.4" stroke="#28f828" stroke-width="2.2" stroke-linecap="round" opacity="1.0"/>
<line x1="570.7" y1="129.5" x2="571.9" y2="138.5" stroke="#20f020" stroke-width="2.2" stroke-linecap="round" opacity="1.0"/>
<line x1="579.5" y1="148.6" x2="584.9" y2="156.5" stroke="#10e010" stroke-width="2.2" stroke-linecap="round" opacity="1.0"/>
<line x1="575.5" y1="106.4" x2="572.3" y2="115.8" stroke="#20f020" stroke-width="2.2" stroke-linecap="round" opacity="1.0"/>
<line x1="604.2" y1="158.5" x2="607.9" y2="164.9" stroke="#10e010" stroke-width="2.2" stroke-linecap="round" opacity="1.0"/>
<line x1="585.9" y1="140.3" x2="593.1" y2="145.9" stroke="#0c9c08" stroke-width="2.2" stroke-linecap="round" opacity="1.0"/>
<line x1="591.1" y1="158.8" x2="596.2" y2="163.3" stroke="#30ff20" stroke-width="2.2" stroke-linecap="round" opacity="1.0"/>
<line x1="577.2" y1="145.7" x2="582.5" y2="150.9" stroke="#10e010" stroke-width="2.2" stroke-linecap="round" opacity="1.0"/>
<line x1="568.0" y1="147.8" x2="572.9" y2="156.0" stroke="#28f828" stroke-width="2.2" stroke-linecap="round" opacity="1.0"/>
<line x1="573.0" y1="143.3" x2="578.8" y2="146.8" stroke="#10e010" stroke-width="2.2" stroke-linecap="round" opacity="1.0"/>
<line x1="563.9" y1="160.7" x2="570.5" y2="165.7" stroke="#18d018" stroke-width="2.2" stroke-linecap="round" opacity="1.0"/>
<line x1="600.3" y1="175.1" x2="608.4" y2="180.3" stroke="#18d018" stroke-width="2.2" stroke-linecap="round" opacity="1.0"/>
<line x1="579.6" y1="103.3" x2="578.7" y2="112.4" stroke="#20f020" stroke-width="2.2" stroke-linecap="round" opacity="1.0"/>
<line x1="574.7" y1="96.7" x2="576.5" y2="104.9" stroke="#10e010" stroke-width="2.2" stroke-linecap="round" opacity="1.0"/>
<line x1="592.0" y1="118.6" x2="590.3" y2="126.1" stroke="#18d018" stroke-width="2.2" stroke-linecap="round" opacity="1.0"/>
<line x1="601.9" y1="171.1" x2="605.2" y2="177.2" stroke="#10e010" stroke-width="2.2" stroke-linecap="round" opacity="1.0"/>
<line x1="558.8" y1="128.5" x2="557.5" y2="136.3" stroke="#10e010" stroke-width="2.2" stroke-linecap="round" opacity="1.0"/>
<line x1="607.3" y1="153.7" x2="611.7" y2="161.3" stroke="#10e010" stroke-width="2.2" stroke-linecap="round" opacity="1.0"/>
</g>
<line x1="38.6" y1="161.2" x2="32.4" y2="164.5" stroke="#fff" stroke-width="1.8" stroke-linecap="round"/><polygon points="29.6,166.0 31.5,162.8 33.3,166.2" fill="#fff"/>
<line x1="181.7" y1="151.4" x2="175.5" y2="156.4" stroke="#fff" stroke-width="1.8" stroke-linecap="round"/><polygon points="173.0,158.4 174.3,154.9 176.7,157.9" fill="#fff"/>
<g id="greens"></g>
<rect x="138.0" y="128.9" width="3.7" height="6" fill="#fff"/>
<rect x="273.9" y="128.9" width="3.3" height="6" fill="#fff"/>
<rect x="410.0" y="128.9" width="3.5" height="6" fill="#fff"/>
<rect x="545.8" y="128.9" width="3.3" height="6" fill="#fff"/>
<rect x="3.5" y="128.9" width="1.6" height="6" fill="#fff"/>
<rect x="682" y="128.9" width="2.5" height="6" fill="#fff"/>
<line x1="12.1" y1="187.3" x2="32.1" y2="187.3" stroke="#fff" stroke-width="1.3"/>
<text x="16.1" y="193.0" font-size="4.6" font-weight="normal" font-style="normal" text-anchor="start" fill="#fff" textLength="11.5" lengthAdjust="spacingAndGlyphs" >10 µm</text>
<line x1="148.7" y1="187.3" x2="168.7" y2="187.3" stroke="#fff" stroke-width="1.3"/>
<text x="152.7" y="193.0" font-size="4.6" font-weight="normal" font-style="normal" text-anchor="start" fill="#fff" textLength="11.5" lengthAdjust="spacingAndGlyphs" >10 µm</text>
<line x1="284.2" y1="187.3" x2="304.2" y2="187.3" stroke="#fff" stroke-width="1.3"/>
<text x="288.2" y="193.0" font-size="4.6" font-weight="normal" font-style="normal" text-anchor="start" fill="#fff" textLength="11.5" lengthAdjust="spacingAndGlyphs" >10 µm</text>
<line x1="420.5" y1="187.3" x2="440.5" y2="187.3" stroke="#fff" stroke-width="1.3"/>
<text x="424.5" y="193.0" font-size="4.6" font-weight="normal" font-style="normal" text-anchor="start" fill="#fff" textLength="11.5" lengthAdjust="spacingAndGlyphs" >10 µm</text>
<line x1="556.1" y1="187.3" x2="576.1" y2="187.3" stroke="#fff" stroke-width="1.3"/>
<text x="560.1" y="193.0" font-size="4.6" font-weight="normal" font-style="normal" text-anchor="start" fill="#fff" textLength="11.5" lengthAdjust="spacingAndGlyphs" >10 µm</text>
<text x="106.7" y="72.6" font-size="7.0" font-weight="normal" font-style="normal" text-anchor="start" fill="#fff" textLength="22.2" lengthAdjust="spacingAndGlyphs" >0 min</text>
<text x="233.0" y="72.6" font-size="7.0" font-weight="normal" font-style="normal" text-anchor="start" fill="#fff" textLength="32.0" lengthAdjust="spacingAndGlyphs" >120 min</text>
<text x="368.0" y="72.6" font-size="7.0" font-weight="normal" font-style="normal" text-anchor="start" fill="#fff" textLength="33.2" lengthAdjust="spacingAndGlyphs" >420 min</text>
<text x="503.8" y="72.6" font-size="7.0" font-weight="normal" font-style="normal" text-anchor="start" fill="#fff" textLength="33.2" lengthAdjust="spacingAndGlyphs" >600 min</text>
<text x="640.0" y="72.6" font-size="7.0" font-weight="normal" font-style="normal" text-anchor="start" fill="#fff" textLength="33.0" lengthAdjust="spacingAndGlyphs" >780 min</text>
<rect x="110.6" y="66.4" width="14.2" height="21.3" fill="#fff"/>
<text x="117.69999999999999" y="81.10000000000001" font-size="12.0" font-weight="normal" font-style="normal" text-anchor="middle" fill="#404040" >0</text>
<rect x="236.0" y="66.0" width="27.1" height="21.9" fill="#fff"/>
<text x="249.55" y="80.7" font-size="12.0" font-weight="normal" font-style="normal" text-anchor="middle" fill="#404040" >120</text>
<rect x="369.9" y="66.0" width="27.9" height="21.9" fill="#fff"/>
<text x="383.84999999999997" y="80.7" font-size="12.0" font-weight="normal" font-style="normal" text-anchor="middle" fill="#404040" >420</text>
<rect x="505.8" y="66.0" width="27.3" height="21.9" fill="#fff"/>
<text x="519.45" y="80.7" font-size="12.0" font-weight="normal" font-style="normal" text-anchor="middle" fill="#404040" >600</text>
<rect x="641.0" y="67.2" width="30.9" height="21.7" fill="#fff"/>
<text x="656.45" y="81.9" font-size="12.0" font-weight="normal" font-style="normal" text-anchor="middle" fill="#404040" >780</text>
<text x="-0.5" y="245.3" font-size="21" font-weight="bold" font-style="normal" text-anchor="start" fill="#000" stroke="#000" stroke-width="0.3" >b</text>
<rect x="42.5" y="250.2" width="250" height="179.3" fill="#c0c0c0"/>
<line x1="41.8" y1="250.2" x2="41.8" y2="430.2" stroke="#000" stroke-width="1.6"/>
<line x1="41" y1="429.6" x2="293.6" y2="429.6" stroke="#000" stroke-width="1.6"/>
<line x1="293" y1="250.2" x2="293" y2="429" stroke="#000" stroke-width="1.2" stroke-dasharray="3.3,1.5"/>
<line x1="38.8" y1="430.0" x2="42" y2="430.0" stroke="#000" stroke-width="1.5"/>
<text x="29.4" y="435.1" font-size="13" font-weight="bold" font-style="normal" text-anchor="end" fill="#000" stroke="#000" stroke-width="0.3" >10</text>
<text x="29.2" y="430.6" font-size="9.4" font-weight="bold" font-style="normal" text-anchor="start" fill="#000" stroke="#000" stroke-width="0.3" >1</text>
<line x1="38.8" y1="378.1" x2="42" y2="378.1" stroke="#000" stroke-width="1.5"/>
<text x="29.4" y="383.25" font-size="13" font-weight="bold" font-style="normal" text-anchor="end" fill="#000" stroke="#000" stroke-width="0.3" >10</text>
<text x="29.2" y="378.75" font-size="9.4" font-weight="bold" font-style="normal" text-anchor="start" fill="#000" stroke="#000" stroke-width="0.3" >2</text>
<line x1="38.8" y1="326.3" x2="42" y2="326.3" stroke="#000" stroke-width="1.5"/>
<text x="29.4" y="331.40000000000003" font-size="13" font-weight="bold" font-style="normal" text-anchor="end" fill="#000" stroke="#000" stroke-width="0.3" >10</text>
<text x="29.2" y="326.90000000000003" font-size="9.4" font-weight="bold" font-style="normal" text-anchor="start" fill="#000" stroke="#000" stroke-width="0.3" >3</text>
<line x1="38.8" y1="274.4" x2="42" y2="274.4" stroke="#000" stroke-width="1.5"/>
<text x="29.4" y="279.55" font-size="13" font-weight="bold" font-style="normal" text-anchor="end" fill="#000" stroke="#000" stroke-width="0.3" >10</text>
<text x="29.2" y="275.05" font-size="9.4" font-weight="bold" font-style="normal" text-anchor="start" fill="#000" stroke="#000" stroke-width="0.3" >4</text>
<line x1="41.8" y1="429" x2="41.8" y2="432.6" stroke="#000" stroke-width="1.5"/>
<text x="41.8" y="446.5" font-size="13" font-weight="bold" font-style="normal" text-anchor="middle" fill="#000" stroke="#000" stroke-width="0.3" >0</text>
<line x1="104.7" y1="429" x2="104.7" y2="432.6" stroke="#000" stroke-width="1.5"/>
<text x="104.69999999999999" y="446.5" font-size="13" font-weight="bold" font-style="normal" text-anchor="middle" fill="#000" stroke="#000" stroke-width="0.3" >60</text>
<line x1="167.6" y1="429" x2="167.6" y2="432.6" stroke="#000" stroke-width="1.5"/>
<text x="167.6" y="446.5" font-size="13" font-weight="bold" font-style="normal" text-anchor="middle" fill="#000" stroke="#000" stroke-width="0.3" >120</text>
<line x1="230.5" y1="429" x2="230.5" y2="432.6" stroke="#000" stroke-width="1.5"/>
<text x="230.5" y="446.5" font-size="13" font-weight="bold" font-style="normal" text-anchor="middle" fill="#000" stroke="#000" stroke-width="0.3" >180</text>
<line x1="293.4" y1="429" x2="293.4" y2="432.6" stroke="#000" stroke-width="1.5"/>
<text x="293.4" y="446.5" font-size="13" font-weight="bold" font-style="normal" text-anchor="middle" fill="#000" stroke="#000" stroke-width="0.3" >240</text>
<text x="167.8" y="460.9" font-size="12.8" font-weight="bold" font-style="normal" text-anchor="middle" fill="#000" textLength="65" lengthAdjust="spacingAndGlyphs" stroke="#000" stroke-width="0.3" >Time (min)</text>
<text transform="translate(11.0,336.9) rotate(-90) scale(0.9375,1)" x="0" y="0" font-size="13.8" font-weight="bold" text-anchor="middle" stroke="#000" stroke-width="0.3">Number of intact bacteria</text>
<circle cx="41.8" cy="255.8" r="2.55" fill="none" stroke="#000" stroke-width="1.1"/>
<circle cx="46.0" cy="255.8" r="2.55" fill="none" stroke="#000" stroke-width="1.1"/>
<circle cx="50.2" cy="256.7" r="2.55" fill="none" stroke="#000" stroke-width="1.1"/>
<circle cx="54.4" cy="258.8" r="2.55" fill="none" stroke="#000" stroke-width="1.1"/>
<circle cx="58.6" cy="261.4" r="2.55" fill="none" stroke="#000" stroke-width="1.1"/>
<circle cx="62.8" cy="265.0" r="2.55" fill="none" stroke="#000" stroke-width="1.1"/>
<circle cx="67.0" cy="268.8" r="2.55" fill="none" stroke="#000" stroke-width="1.1"/>
<circle cx="71.1" cy="272.7" r="2.55" fill="none" stroke="#000" stroke-width="1.1"/>
<circle cx="75.3" cy="276.8" r="2.55" fill="none" stroke="#000" stroke-width="1.1"/>
<circle cx="79.5" cy="281.4" r="2.55" fill="none" stroke="#000" stroke-width="1.1"/>
<circle cx="83.7" cy="285.1" r="2.55" fill="none" stroke="#000" stroke-width="1.1"/>
<circle cx="87.9" cy="288.7" r="2.55" fill="none" stroke="#000" stroke-width="1.1"/>
<circle cx="92.1" cy="292.2" r="2.55" fill="none" stroke="#000" stroke-width="1.1"/>
<circle cx="96.3" cy="295.8" r="2.55" fill="none" stroke="#000" stroke-width="1.1"/>
<circle cx="100.5" cy="299.4" r="2.55" fill="none" stroke="#000" stroke-width="1.1"/>
<circle cx="104.7" cy="302.5" r="2.55" fill="none" stroke="#000" stroke-width="1.1"/>
<circle cx="108.9" cy="304.8" r="2.55" fill="none" stroke="#000" stroke-width="1.1"/>
<circle cx="113.1" cy="307.3" r="2.55" fill="none" stroke="#000" stroke-width="1.1"/>
<circle cx="117.3" cy="309.4" r="2.55" fill="none" stroke="#000" stroke-width="1.1"/>
<circle cx="121.5" cy="311.4" r="2.55" fill="none" stroke="#000" stroke-width="1.1"/>
<circle cx="125.6" cy="313.2" r="2.55" fill="none" stroke="#000" stroke-width="1.1"/>
<circle cx="129.8" cy="315.0" r="2.55" fill="none" stroke="#000" stroke-width="1.1"/>
<circle cx="134.0" cy="316.6" r="2.55" fill="none" stroke="#000" stroke-width="1.1"/>
<circle cx="138.2" cy="318.1" r="2.55" fill="none" stroke="#000" stroke-width="1.1"/>
<circle cx="142.4" cy="319.6" r="2.55" fill="none" stroke="#000" stroke-width="1.1"/>
<circle cx="146.6" cy="320.8" r="2.55" fill="none" stroke="#000" stroke-width="1.1"/>
<circle cx="150.8" cy="322.0" r="2.55" fill="none" stroke="#000" stroke-width="1.1"/>
<circle cx="155.0" cy="323.3" r="2.55" fill="none" stroke="#000" stroke-width="1.1"/>
<circle cx="159.2" cy="324.3" r="2.55" fill="none" stroke="#000" stroke-width="1.1"/>
<circle cx="163.4" cy="325.4" r="2.55" fill="none" stroke="#000" stroke-width="1.1"/>
<circle cx="167.6" cy="326.5" r="2.55" fill="none" stroke="#000" stroke-width="1.1"/>
<circle cx="171.8" cy="327.5" r="2.55" fill="none" stroke="#000" stroke-width="1.1"/>
<circle cx="176.0" cy="328.5" r="2.55" fill="none" stroke="#000" stroke-width="1.1"/>
<circle cx="180.2" cy="329.5" r="2.55" fill="none" stroke="#000" stroke-width="1.1"/>
<circle cx="184.3" cy="330.4" r="2.55" fill="none" stroke="#000" stroke-width="1.1"/>
<circle cx="188.5" cy="331.2" r="2.55" fill="none" stroke="#000" stroke-width="1.1"/>
<circle cx="192.7" cy="332.1" r="2.55" fill="none" stroke="#000" stroke-width="1.1"/>
<circle cx="196.9" cy="332.9" r="2.55" fill="none" stroke="#000" stroke-width="1.1"/>
<circle cx="201.1" cy="333.8" r="2.55" fill="none" stroke="#000" stroke-width="1.1"/>
<circle cx="205.3" cy="334.7" r="2.55" fill="none" stroke="#000" stroke-width="1.1"/>
<circle cx="209.5" cy="335.5" r="2.55" fill="none" stroke="#000" stroke-width="1.1"/>
<circle cx="213.7" cy="336.3" r="2.55" fill="none" stroke="#000" stroke-width="1.1"/>
<circle cx="217.9" cy="337.3" r="2.55" fill="none" stroke="#000" stroke-width="1.1"/>
<circle cx="222.1" cy="338.3" r="2.55" fill="none" stroke="#000" stroke-width="1.1"/>
<circle cx="226.3" cy="339.1" r="2.55" fill="none" stroke="#000" stroke-width="1.1"/>
<circle cx="230.5" cy="339.8" r="2.55" fill="none" stroke="#000" stroke-width="1.1"/>
<circle cx="234.7" cy="340.5" r="2.55" fill="none" stroke="#000" stroke-width="1.1"/>
<circle cx="238.8" cy="341.2" r="2.55" fill="none" stroke="#000" stroke-width="1.1"/>
<circle cx="243.0" cy="341.8" r="2.55" fill="none" stroke="#000" stroke-width="1.1"/>
<circle cx="247.2" cy="342.5" r="2.55" fill="none" stroke="#000" stroke-width="1.1"/>
<circle cx="251.4" cy="343.1" r="2.55" fill="none" stroke="#000" stroke-width="1.1"/>
<circle cx="255.6" cy="343.6" r="2.55" fill="none" stroke="#000" stroke-width="1.1"/>
<circle cx="259.8" cy="344.2" r="2.55" fill="none" stroke="#000" stroke-width="1.1"/>
<circle cx="264.0" cy="344.8" r="2.55" fill="none" stroke="#000" stroke-width="1.1"/>
<circle cx="268.2" cy="345.2" r="2.55" fill="none" stroke="#000" stroke-width="1.1"/>
<circle cx="272.4" cy="345.7" r="2.55" fill="none" stroke="#000" stroke-width="1.1"/>
<circle cx="276.6" cy="346.2" r="2.55" fill="none" stroke="#000" stroke-width="1.1"/>
<circle cx="280.8" cy="346.6" r="2.55" fill="none" stroke="#000" stroke-width="1.1"/>
<circle cx="285.0" cy="347.0" r="2.55" fill="none" stroke="#000" stroke-width="1.1"/>
<circle cx="289.2" cy="347.4" r="2.55" fill="none" stroke="#000" stroke-width="1.1"/>
<circle cx="293.3" cy="347.8" r="2.55" fill="none" stroke="#000" stroke-width="1.1"/>
<path d="M41.5,251.0 C42.92,252.42 46.92,256.43 50.0,259.5 C53.08,262.57 56.67,266.37 60.0,269.4 C63.33,272.43 66.67,274.88 70.0,277.7 C73.33,280.52 76.67,283.65 80.0,286.3 C83.33,288.95 86.67,291.27 90.0,293.6 C93.33,295.93 96.67,298.27 100.0,300.3 C103.33,302.33 106.67,304.05 110.0,305.8 C113.33,307.55 116.67,309.25 120.0,310.8 C123.33,312.35 126.27,313.63 130.0,315.1 C133.73,316.57 138.27,318.25 142.4,319.6 C146.53,320.95 150.67,322.07 154.8,323.2 C158.93,324.33 163.07,325.37 167.2,326.4 C171.33,327.43 175.47,328.48 179.6,329.4 C183.73,330.32 187.87,331.05 192.0,331.9 C196.13,332.75 200.57,333.72 204.4,334.5 C208.23,335.28 211.88,335.92 215.0,336.6 C218.12,337.28 219.55,337.90 223.1,338.6 C226.65,339.30 231.92,340.10 236.3,340.8 C240.68,341.50 245.02,342.17 249.4,342.8 C253.78,343.43 258.22,344.05 262.6,344.6 C266.98,345.15 271.33,345.63 275.7,346.1 C280.07,346.57 285.88,347.12 288.8,347.4 C291.72,347.68 292.47,347.73 293.2,347.8" fill="none" stroke="#ff2a00" stroke-width="2.9" stroke-linejoin="round"/>
<text x="91.6" y="276.3" font-size="13.4" font-weight="bold" font-style="italic" text-anchor="start" fill="#000" stroke="#000" stroke-width="0.3" >k</text>
<text x="98.6" y="280.6" font-size="10.5" font-weight="bold" font-style="italic" text-anchor="start" fill="#000" textLength="17.4" lengthAdjust="spacingAndGlyphs" stroke="#000" stroke-width="0.3" >fast</text>
<text x="115.4" y="276.3" font-size="13.4" font-weight="bold" font-style="normal" text-anchor="start" fill="#000" textLength="43.2" lengthAdjust="spacingAndGlyphs" stroke="#000" stroke-width="0.3" >= 0.051</text>
<text x="190.7" y="364.0" font-size="13.4" font-weight="bold" font-style="italic" text-anchor="start" fill="#000" stroke="#000" stroke-width="0.3" >k</text>
<text x="197.4" y="368.3" font-size="10.5" font-weight="bold" font-style="italic" text-anchor="start" fill="#000" textLength="22.0" lengthAdjust="spacingAndGlyphs" stroke="#000" stroke-width="0.3" >slow</text>
<text x="219.2" y="364.0" font-size="13.4" font-weight="bold" font-style="normal" text-anchor="start" fill="#000" textLength="43.0" lengthAdjust="spacingAndGlyphs" stroke="#000" stroke-width="0.3" >= 0.013</text>
<text x="308.3" y="245.7" font-size="21" font-weight="bold" font-style="normal" text-anchor="start" fill="#000" stroke="#000" stroke-width="0.3" >c</text>
<line x1="357.8" y1="249.0" x2="357.8" y2="430" stroke="#000" stroke-width="1.5"/>
<text x="352.3" y="434.0" font-size="12.5" font-weight="bold" font-style="normal" text-anchor="end" fill="#000" stroke="#000" stroke-width="0.3" >0.00</text>
<line x1="354.5" y1="369.5" x2="358" y2="369.5" stroke="#000" stroke-width="1.4"/>
<text x="352.3" y="374.0" font-size="12.5" font-weight="bold" font-style="normal" text-anchor="end" fill="#000" stroke="#000" stroke-width="0.3" >0.02</text>
<line x1="354.5" y1="309.5" x2="358" y2="309.5" stroke="#000" stroke-width="1.4"/>
<text x="352.3" y="314.0" font-size="12.5" font-weight="bold" font-style="normal" text-anchor="end" fill="#000" stroke="#000" stroke-width="0.3" >0.04</text>
<line x1="354.5" y1="249.5" x2="358" y2="249.5" stroke="#000" stroke-width="1.4"/>
<text x="352.3" y="254.0" font-size="12.5" font-weight="bold" font-style="normal" text-anchor="end" fill="#000" stroke="#000" stroke-width="0.3" >0.06</text>
<text transform="translate(321.4,337.5) rotate(-90) scale(0.92,1)" x="0" y="0" font-size="14" font-weight="bold" text-anchor="middle" stroke="#000" stroke-width="0.3">Rate of killing (min<tspan dy="-5" font-size="9">-1</tspan><tspan dy="5">)</tspan></text>
<polyline points="357.7,429.0 357.7,420.0 360.7,406.4 365.2,385.9 370.9,354.0 375.5,324.2 379.2,304.8 382.7,287.5 386.8,273.7 391.2,267.7 395.1,267.7 399.3,272.3 403.4,280.6 408.3,292.3 413.1,307.6 417.9,324.2 420.9,333.6 424.4,340.2 428.0,350.4 432.4,359.9 436.8,365.0 441.2,369.1 445.1,373.5 449.2,375.3 454.3,377.2 458.0,379.3 462.3,382.6 466.4,385.2 470.4,389.1 474.3,392.5 478.4,395.0 482.8,393.2 487.2,395.4 491.5,392.8 495.2,390.1 499.6,393.1 503.9,392.5 508.0,393.1 511.2,395.7 514.6,399.3 516.1,402.7 520.7,405.8 524.6,406.8 529.2,409.6 533.0,409.4 537.6,408.7 541.9,409.9 546.0,407.9 549.9,408.0 554.5,407.3 559.0,408.0 562.9,409.1 566.7,410.2 571.0,411.4 575.1,416.0 579.0,416.0 583.6,416.3 587.4,415.0 591.2,415.0 595.5,411.7 599.7,412.2 603.8,410.3 608.9,411.0" fill="none" stroke="#000" stroke-width="1.5" stroke-linejoin="round"/>
<g shape-rendering="crispEdges">
<rect x="355.40" y="431.4" width="3.40" height="12.20" fill="#ff2000"/>
<rect x="358.50" y="431.4" width="4.42" height="12.20" fill="#ff2800"/>
<rect x="362.62" y="431.4" width="4.42" height="12.20" fill="#ff4800"/>
<rect x="366.74" y="431.4" width="4.42" height="12.20" fill="#ffc400"/>
<rect x="370.86" y="431.4" width="4.42" height="12.20" fill="#70ff00"/>
<rect x="374.98" y="431.4" width="4.42" height="12.20" fill="#00f060"/>
<rect x="379.10" y="431.4" width="4.42" height="12.20" fill="#00ffd8"/>
<rect x="383.22" y="431.4" width="4.42" height="12.20" fill="#00a0ff"/>
<rect x="387.34" y="431.4" width="4.42" height="12.20" fill="#7030ff"/>
<rect x="391.46" y="431.4" width="4.42" height="12.20" fill="#d040ff"/>
<rect x="395.58" y="431.4" width="4.42" height="12.20" fill="#8040ff"/>
<rect x="399.70" y="431.4" width="4.42" height="12.20" fill="#3030ff"/>
<rect x="403.82" y="431.4" width="4.42" height="12.20" fill="#0070ff"/>
<rect x="407.94" y="431.4" width="4.42" height="12.20" fill="#0040ff"/>
<rect x="412.06" y="431.4" width="4.42" height="12.20" fill="#00a0ff"/>
<rect x="416.18" y="431.4" width="4.42" height="12.20" fill="#00ffe0"/>
<rect x="420.30" y="431.4" width="4.42" height="12.20" fill="#00ffc0"/>
<rect x="424.42" y="431.4" width="4.42" height="12.20" fill="#00f050"/>
<rect x="428.54" y="431.4" width="4.42" height="12.20" fill="#00f060"/>
<rect x="432.66" y="431.4" width="4.42" height="12.20" fill="#40f000"/>
<rect x="436.78" y="431.4" width="4.42" height="12.20" fill="#70f000"/>
<rect x="440.90" y="431.4" width="4.42" height="12.20" fill="#b0f000"/>
<rect x="445.02" y="431.4" width="4.42" height="12.20" fill="#40f000"/>
<rect x="449.14" y="431.4" width="4.42" height="12.20" fill="#80f000"/>
<rect x="453.26" y="431.4" width="4.42" height="12.20" fill="#60f000"/>
<rect x="457.38" y="431.4" width="4.42" height="12.20" fill="#d0f000"/>
<rect x="461.50" y="431.4" width="4.42" height="12.20" fill="#50f000"/>
<rect x="465.62" y="431.4" width="4.42" height="12.20" fill="#a0f000"/>
<rect x="469.74" y="431.4" width="4.42" height="12.20" fill="#ffe800"/>
<rect x="473.86" y="431.4" width="4.42" height="12.20" fill="#50f000"/>
<rect x="477.98" y="431.4" width="4.42" height="12.20" fill="#ffe800"/>
<rect x="482.10" y="431.4" width="4.42" height="12.20" fill="#ffb000"/>
<rect x="486.22" y="431.4" width="4.42" height="12.20" fill="#d8f000"/>
<rect x="490.34" y="431.4" width="4.42" height="12.20" fill="#a0f000"/>
<rect x="494.46" y="431.4" width="4.42" height="12.20" fill="#d0f000"/>
<rect x="498.58" y="431.4" width="4.42" height="12.20" fill="#ffb800"/>
<rect x="502.70" y="431.4" width="4.42" height="12.20" fill="#ffee00"/>
<rect x="506.82" y="431.4" width="4.42" height="12.20" fill="#ffc000"/>
<rect x="510.94" y="431.4" width="4.42" height="12.20" fill="#ffb000"/>
<rect x="515.06" y="431.4" width="4.42" height="12.20" fill="#c8f000"/>
<rect x="519.18" y="431.4" width="4.42" height="12.20" fill="#ffb800"/>
<rect x="523.30" y="431.4" width="4.42" height="12.20" fill="#ff9000"/>
<rect x="527.42" y="431.4" width="4.42" height="12.20" fill="#ff7800"/>
<rect x="531.54" y="431.4" width="4.42" height="12.20" fill="#ff8c00"/>
<rect x="535.66" y="431.4" width="4.42" height="12.20" fill="#ffd000"/>
<rect x="539.78" y="431.4" width="4.42" height="12.20" fill="#f0f000"/>
<rect x="543.90" y="431.4" width="4.42" height="12.20" fill="#ff8000"/>
<rect x="548.02" y="431.4" width="4.42" height="12.20" fill="#ffe800"/>
<rect x="552.14" y="431.4" width="4.42" height="12.20" fill="#c8f000"/>
<rect x="556.26" y="431.4" width="4.42" height="12.20" fill="#ffd000"/>
<rect x="560.38" y="431.4" width="4.42" height="12.20" fill="#ffb000"/>
<rect x="564.50" y="431.4" width="4.42" height="12.20" fill="#ffe000"/>
<rect x="568.62" y="431.4" width="4.42" height="12.20" fill="#ff7800"/>
<rect x="572.74" y="431.4" width="4.42" height="12.20" fill="#ff9000"/>
<rect x="576.86" y="431.4" width="4.42" height="12.20" fill="#ff6000"/>
<rect x="580.98" y="431.4" width="4.42" height="12.20" fill="#ff5c00"/>
<rect x="585.10" y="431.4" width="4.42" height="12.20" fill="#ff5c00"/>
<rect x="589.22" y="431.4" width="4.42" height="12.20" fill="#ff5800"/>
<rect x="593.34" y="431.4" width="4.42" height="12.20" fill="#ffa000"/>
<rect x="597.46" y="431.4" width="4.42" height="12.20" fill="#ffd800"/>
<rect x="601.58" y="431.4" width="3.82" height="12.20" fill="#ff3000"/>
<rect x="355.40" y="443.6" width="3.40" height="12.30" fill="#ff2000"/>
<rect x="358.50" y="443.6" width="4.42" height="12.30" fill="#ffd000"/>
<rect x="362.62" y="443.6" width="4.42" height="12.30" fill="#00f0a0"/>
<rect x="366.74" y="443.6" width="4.42" height="12.30" fill="#00ffff"/>
<rect x="370.86" y="443.6" width="4.42" height="12.30" fill="#4040ff"/>
<rect x="374.98" y="443.6" width="4.42" height="12.30" fill="#8040ff"/>
<rect x="379.10" y="443.6" width="4.42" height="12.30" fill="#f040ff"/>
<rect x="383.22" y="443.6" width="4.42" height="12.30" fill="#e040f8"/>
<rect x="387.34" y="443.6" width="4.42" height="12.30" fill="#c040ff"/>
<rect x="391.46" y="443.6" width="4.42" height="12.30" fill="#a040ff"/>
<rect x="395.58" y="443.6" width="4.42" height="12.30" fill="#ff40ff"/>
<rect x="399.70" y="443.6" width="4.42" height="12.30" fill="#2030ff"/>
<rect x="403.82" y="443.6" width="4.42" height="12.30" fill="#0070ff"/>
<rect x="407.94" y="443.6" width="4.42" height="12.30" fill="#0090ff"/>
<rect x="412.06" y="443.6" width="4.42" height="12.30" fill="#00ffff"/>
<rect x="416.18" y="443.6" width="4.42" height="12.30" fill="#00e8ff"/>
<rect x="420.30" y="443.6" width="4.42" height="12.30" fill="#00ffc0"/>
<rect x="424.42" y="443.6" width="4.42" height="12.30" fill="#80ff00"/>
<rect x="428.54" y="443.6" width="4.42" height="12.30" fill="#00f080"/>
<rect x="432.66" y="443.6" width="4.42" height="12.30" fill="#40f000"/>
<rect x="436.78" y="443.6" width="4.42" height="12.30" fill="#b0f000"/>
<rect x="440.90" y="443.6" width="4.42" height="12.30" fill="#b0f000"/>
<rect x="445.02" y="443.6" width="4.42" height="12.30" fill="#00f000"/>
<rect x="449.14" y="443.6" width="4.42" height="12.30" fill="#30f000"/>
<rect x="453.26" y="443.6" width="4.42" height="12.30" fill="#a0f000"/>
<rect x="457.38" y="443.6" width="4.42" height="12.30" fill="#b0f000"/>
<rect x="461.50" y="443.6" width="4.42" height="12.30" fill="#90f000"/>
<rect x="465.62" y="443.6" width="4.42" height="12.30" fill="#ffe800"/>
<rect x="469.74" y="443.6" width="4.42" height="12.30" fill="#ff6000"/>
<rect x="473.86" y="443.6" width="4.42" height="12.30" fill="#c0f000"/>
<rect x="477.98" y="443.6" width="4.42" height="12.30" fill="#a8f000"/>
<rect x="482.10" y="443.6" width="4.42" height="12.30" fill="#ffd800"/>
<rect x="486.22" y="443.6" width="4.42" height="12.30" fill="#ffd000"/>
<rect x="490.34" y="443.6" width="4.42" height="12.30" fill="#50f000"/>
<rect x="494.46" y="443.6" width="4.42" height="12.30" fill="#60f000"/>
<rect x="498.58" y="443.6" width="4.42" height="12.30" fill="#ff9800"/>
<rect x="502.70" y="443.6" width="4.42" height="12.30" fill="#60f000"/>
<rect x="506.82" y="443.6" width="4.42" height="12.30" fill="#ffc000"/>
<rect x="510.94" y="443.6" width="4.42" height="12.30" fill="#ff9000"/>
<rect x="515.06" y="443.6" width="4.42" height="12.30" fill="#ff9400"/>
<rect x="519.18" y="443.6" width="4.42" height="12.30" fill="#ff9400"/>
<rect x="523.30" y="443.6" width="4.42" height="12.30" fill="#ff9800"/>
<rect x="527.42" y="443.6" width="4.42" height="12.30" fill="#ff7000"/>
<rect x="531.54" y="443.6" width="4.42" height="12.30" fill="#d8f800"/>
<rect x="535.66" y="443.6" width="4.42" height="12.30" fill="#ff6000"/>
<rect x="539.78" y="443.6" width="4.42" height="12.30" fill="#ff6800"/>
<rect x="543.90" y="443.6" width="4.42" height="12.30" fill="#ff4c00"/>
<rect x="548.02" y="443.6" width="4.42" height="12.30" fill="#ff5000"/>
<rect x="552.14" y="443.6" width="4.42" height="12.30" fill="#ff5000"/>
<rect x="556.26" y="443.6" width="4.42" height="12.30" fill="#ff5000"/>
<rect x="560.38" y="443.6" width="4.42" height="12.30" fill="#ffb000"/>
<rect x="564.50" y="443.6" width="4.42" height="12.30" fill="#ffe000"/>
<rect x="568.62" y="443.6" width="4.42" height="12.30" fill="#ff6000"/>
<rect x="572.74" y="443.6" width="4.42" height="12.30" fill="#ff2800"/>
<rect x="576.86" y="443.6" width="4.42" height="12.30" fill="#ff9000"/>
<rect x="580.98" y="443.6" width="4.42" height="12.30" fill="#ff5800"/>
<rect x="585.10" y="443.6" width="4.42" height="12.30" fill="#ff5000"/>
<rect x="589.22" y="443.6" width="4.42" height="12.30" fill="#40f000"/>
<rect x="593.34" y="443.6" width="4.42" height="12.30" fill="#ff5800"/>
<rect x="597.46" y="443.6" width="4.42" height="12.30" fill="#ff5c00"/>
<rect x="601.58" y="443.6" width="3.82" height="12.30" fill="#ff9800"/>
<rect x="355.40" y="455.9" width="3.40" height="12.30" fill="#ff2000"/>
<rect x="358.50" y="455.9" width="4.42" height="12.30" fill="#ff9000"/>
<rect x="362.62" y="455.9" width="4.42" height="12.30" fill="#90ff00"/>
<rect x="366.74" y="455.9" width="4.42" height="12.30" fill="#00ff40"/>
<rect x="370.86" y="455.9" width="4.42" height="12.30" fill="#00ffff"/>
<rect x="374.98" y="455.9" width="4.42" height="12.30" fill="#0080ff"/>
<rect x="379.10" y="455.9" width="4.42" height="12.30" fill="#1040ff"/>
<rect x="383.22" y="455.9" width="4.42" height="12.30" fill="#8040ff"/>
<rect x="387.34" y="455.9" width="4.42" height="12.30" fill="#4030ff"/>
<rect x="391.46" y="455.9" width="4.42" height="12.30" fill="#d040ff"/>
<rect x="395.58" y="455.9" width="4.42" height="12.30" fill="#8040ff"/>
<rect x="399.70" y="455.9" width="4.42" height="12.30" fill="#0060ff"/>
<rect x="403.82" y="455.9" width="4.42" height="12.30" fill="#00d0ff"/>
<rect x="407.94" y="455.9" width="4.42" height="12.30" fill="#00ccff"/>
<rect x="412.06" y="455.9" width="4.42" height="12.30" fill="#00ffd0"/>
<rect x="416.18" y="455.9" width="4.42" height="12.30" fill="#00f040"/>
<rect x="420.30" y="455.9" width="4.42" height="12.30" fill="#00f040"/>
<rect x="424.42" y="455.9" width="4.42" height="12.30" fill="#00ff80"/>
<rect x="428.54" y="455.9" width="4.42" height="12.30" fill="#60f000"/>
<rect x="432.66" y="455.9" width="4.42" height="12.30" fill="#90f000"/>
<rect x="436.78" y="455.9" width="4.42" height="12.30" fill="#40f000"/>
<rect x="440.90" y="455.9" width="4.42" height="12.30" fill="#80f000"/>
<rect x="445.02" y="455.9" width="4.42" height="12.30" fill="#c0f000"/>
<rect x="449.14" y="455.9" width="4.42" height="12.30" fill="#d8f000"/>
<rect x="453.26" y="455.9" width="4.42" height="12.30" fill="#f0f000"/>
<rect x="457.38" y="455.9" width="4.42" height="12.30" fill="#ffee00"/>
<rect x="461.50" y="455.9" width="4.42" height="12.30" fill="#d8f000"/>
<rect x="465.62" y="455.9" width="4.42" height="12.30" fill="#d0f000"/>
<rect x="469.74" y="455.9" width="4.42" height="12.30" fill="#e8f000"/>
<rect x="473.86" y="455.9" width="4.42" height="12.30" fill="#ff9000"/>
<rect x="477.98" y="455.9" width="4.42" height="12.30" fill="#ffee00"/>
<rect x="482.10" y="455.9" width="4.42" height="12.30" fill="#ffc000"/>
<rect x="486.22" y="455.9" width="4.42" height="12.30" fill="#ffb000"/>
<rect x="490.34" y="455.9" width="4.42" height="12.30" fill="#f8e000"/>
<rect x="494.46" y="455.9" width="4.42" height="12.30" fill="#d8f000"/>
<rect x="498.58" y="455.9" width="4.42" height="12.30" fill="#ffd000"/>
<rect x="502.70" y="455.9" width="4.42" height="12.30" fill="#f0f000"/>
<rect x="506.82" y="455.9" width="4.42" height="12.30" fill="#e0f000"/>
<rect x="510.94" y="455.9" width="4.42" height="12.30" fill="#ff8800"/>
<rect x="515.06" y="455.9" width="4.42" height="12.30" fill="#f0f000"/>
<rect x="519.18" y="455.9" width="4.42" height="12.30" fill="#ff9000"/>
<rect x="523.30" y="455.9" width="4.42" height="12.30" fill="#ff7000"/>
<rect x="527.42" y="455.9" width="4.42" height="12.30" fill="#ffd000"/>
<rect x="531.54" y="455.9" width="4.42" height="12.30" fill="#ff6000"/>
<rect x="535.66" y="455.9" width="4.42" height="12.30" fill="#ffa000"/>
<rect x="539.78" y="455.9" width="4.42" height="12.30" fill="#ffa800"/>
<rect x="543.90" y="455.9" width="4.42" height="12.30" fill="#ffe000"/>
<rect x="548.02" y="455.9" width="4.42" height="12.30" fill="#ffe000"/>
<rect x="552.14" y="455.9" width="4.42" height="12.30" fill="#ff8c00"/>
<rect x="556.26" y="455.9" width="4.42" height="12.30" fill="#ff9c00"/>
<rect x="560.38" y="455.9" width="4.42" height="12.30" fill="#ff9000"/>
<rect x="564.50" y="455.9" width="4.42" height="12.30" fill="#ff8000"/>
<rect x="568.62" y="455.9" width="4.42" height="12.30" fill="#ff8000"/>
<rect x="572.74" y="455.9" width="4.42" height="12.30" fill="#ffa800"/>
<rect x="576.86" y="455.9" width="4.42" height="12.30" fill="#ff9800"/>
<rect x="580.98" y="455.9" width="4.42" height="12.30" fill="#ff9000"/>
<rect x="585.10" y="455.9" width="4.42" height="12.30" fill="#ff6000"/>
<rect x="589.22" y="455.9" width="4.42" height="12.30" fill="#ffd000"/>
<rect x="593.34" y="455.9" width="4.42" height="12.30" fill="#ffa000"/>
<rect x="597.46" y="455.9" width="4.42" height="12.30" fill="#ffe000"/>
<rect x="601.58" y="455.9" width="3.82" height="12.30" fill="#ff9000"/>
</g>
<rect x="354.6" y="430.5" width="251.5" height="38.6" fill="none" stroke="#000" stroke-width="2"/>
<line x1="606" y1="430.4" x2="609.2" y2="430.4" stroke="#000" stroke-width="1.8"/>
<line x1="608.2" y1="429.4" x2="608.2" y2="432.4" stroke="#000" stroke-width="1.6"/>
<line x1="351.3" y1="437.4" x2="354" y2="437.4" stroke="#000" stroke-width="1.4"/>
<text x="347.6" y="441.29999999999995" font-size="10.8" font-weight="bold" font-style="normal" text-anchor="end" fill="#000" stroke="#000" stroke-width="0.3" >A</text>
<line x1="351.3" y1="449.8" x2="354" y2="449.8" stroke="#000" stroke-width="1.4"/>
<text x="347.6" y="453.7" font-size="10.8" font-weight="bold" font-style="normal" text-anchor="end" fill="#000" stroke="#000" stroke-width="0.3" >B</text>
<line x1="351.3" y1="462.3" x2="354" y2="462.3" stroke="#000" stroke-width="1.4"/>
<text x="347.6" y="466.2" font-size="10.8" font-weight="bold" font-style="normal" text-anchor="end" fill="#000" stroke="#000" stroke-width="0.3" >C</text>
<text x="357.2" y="484.4" font-size="13" font-weight="bold" font-style="normal" text-anchor="middle" fill="#000" stroke="#000" stroke-width="0.3" >0</text>
<text x="420.03" y="484.4" font-size="13" font-weight="bold" font-style="normal" text-anchor="middle" fill="#000" stroke="#000" stroke-width="0.3" >60</text>
<text x="482.86" y="484.4" font-size="13" font-weight="bold" font-style="normal" text-anchor="middle" fill="#000" stroke="#000" stroke-width="0.3" >120</text>
<text x="545.69" y="484.4" font-size="13" font-weight="bold" font-style="normal" text-anchor="middle" fill="#000" stroke="#000" stroke-width="0.3" >180</text>
<text x="608.52" y="484.4" font-size="13" font-weight="bold" font-style="normal" text-anchor="middle" fill="#000" stroke="#000" stroke-width="0.3" >240</text>
<text x="483.2" y="504.0" font-size="12.8" font-weight="bold" font-style="normal" text-anchor="middle" fill="#000" textLength="65" lengthAdjust="spacingAndGlyphs" stroke="#000" stroke-width="0.3" >Time (min)</text>
<rect x="618.0" y="430.8" width="16.6" height="37.6" fill="url(#cbar)" stroke="#000" stroke-width="1.6"/>
<line x1="618.6" y1="443.6" x2="620.6" y2="443.6" stroke="#000" stroke-width="1.2"/>
<line x1="632.0" y1="443.6" x2="634.2" y2="443.6" stroke="#000" stroke-width="1.2"/>
<line x1="618.6" y1="456.1" x2="620.6" y2="456.1" stroke="#000" stroke-width="1.2"/>
<line x1="632.0" y1="456.1" x2="634.2" y2="456.1" stroke="#000" stroke-width="1.2"/>
<text x="641.3" y="435.2" font-size="13.2" font-weight="bold" font-style="normal" text-anchor="start" fill="#000" textLength="27.8" lengthAdjust="spacingAndGlyphs" stroke="#000" stroke-width="0.3" >0.06</text>
<text x="641.3" y="447.7" font-size="13.2" font-weight="bold" font-style="normal" text-anchor="start" fill="#000" textLength="27.8" lengthAdjust="spacingAndGlyphs" stroke="#000" stroke-width="0.3" >0.04</text>
<text x="641.3" y="460.7" font-size="13.2" font-weight="bold" font-style="normal" text-anchor="start" fill="#000" textLength="27.8" lengthAdjust="spacingAndGlyphs" stroke="#000" stroke-width="0.3" >0.02</text>
<text x="641.3" y="473.3" font-size="13.2" font-weight="bold" font-style="normal" text-anchor="start" fill="#000" stroke="#000" stroke-width="0.3" >0</text>
</svg>
</body></html>
